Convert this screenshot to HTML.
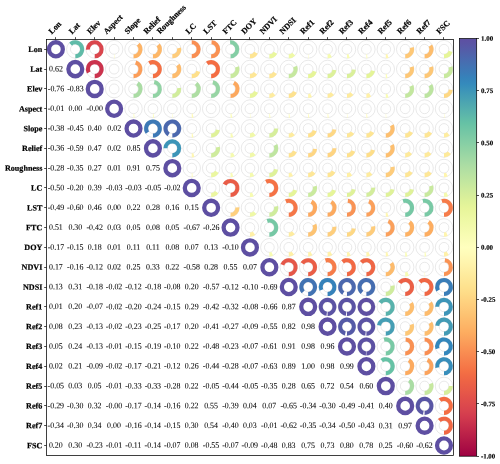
<!DOCTYPE html>
<html><head><meta charset="utf-8"><title>Correlation matrix</title>
<style>html,body{margin:0;padding:0;background:#fff;}body{width:500px;height:464px;position:relative;overflow:hidden;font-family:"Liberation Serif",serif;}</style></head>
<body>
<svg width="500" height="464" viewBox="0 0 500 464" style="position:absolute;left:0;top:0;will-change:transform;text-rendering:geometricPrecision">
<rect x="0" y="0" width="500" height="464" fill="#fff"/>
<defs><linearGradient id="g" x1="0" y1="0" x2="0" y2="1"><stop offset="0.0000" stop-color="#5e4fa2"/><stop offset="0.0156" stop-color="#5956a5"/><stop offset="0.0312" stop-color="#525fa9"/><stop offset="0.0469" stop-color="#4b68ae"/><stop offset="0.0625" stop-color="#4471b2"/><stop offset="0.0781" stop-color="#3d79b6"/><stop offset="0.0938" stop-color="#3682ba"/><stop offset="0.1094" stop-color="#358bbc"/><stop offset="0.1250" stop-color="#3d95b8"/><stop offset="0.1406" stop-color="#459eb4"/><stop offset="0.1562" stop-color="#4ea7b0"/><stop offset="0.1719" stop-color="#56b0ad"/><stop offset="0.1875" stop-color="#5eb9a9"/><stop offset="0.2031" stop-color="#66c2a5"/><stop offset="0.2188" stop-color="#71c6a5"/><stop offset="0.2344" stop-color="#7ccaa5"/><stop offset="0.2500" stop-color="#86cfa5"/><stop offset="0.2656" stop-color="#91d3a4"/><stop offset="0.2812" stop-color="#9cd7a4"/><stop offset="0.2969" stop-color="#a7dba4"/><stop offset="0.3125" stop-color="#b1dfa3"/><stop offset="0.3281" stop-color="#bae3a1"/><stop offset="0.3438" stop-color="#c3e79f"/><stop offset="0.3594" stop-color="#cdeb9d"/><stop offset="0.3750" stop-color="#d6ee9b"/><stop offset="0.3906" stop-color="#dff299"/><stop offset="0.4062" stop-color="#e7f59a"/><stop offset="0.4219" stop-color="#ebf7a0"/><stop offset="0.4375" stop-color="#eff9a6"/><stop offset="0.4531" stop-color="#f3faac"/><stop offset="0.4688" stop-color="#f7fcb2"/><stop offset="0.4844" stop-color="#fbfdb8"/><stop offset="0.5000" stop-color="#ffffbe"/><stop offset="0.5156" stop-color="#fffbb8"/><stop offset="0.5312" stop-color="#fff6b0"/><stop offset="0.5469" stop-color="#fff1a8"/><stop offset="0.5625" stop-color="#feec9f"/><stop offset="0.5781" stop-color="#fee797"/><stop offset="0.5938" stop-color="#fee28f"/><stop offset="0.6094" stop-color="#fedc88"/><stop offset="0.6250" stop-color="#fed481"/><stop offset="0.6406" stop-color="#fecc7b"/><stop offset="0.6562" stop-color="#fdc574"/><stop offset="0.6719" stop-color="#fdbd6d"/><stop offset="0.6875" stop-color="#fdb567"/><stop offset="0.7031" stop-color="#fdad60"/><stop offset="0.7188" stop-color="#fba35c"/><stop offset="0.7344" stop-color="#fa9857"/><stop offset="0.7500" stop-color="#f98e52"/><stop offset="0.7656" stop-color="#f7844e"/><stop offset="0.7812" stop-color="#f67a49"/><stop offset="0.7969" stop-color="#f47044"/><stop offset="0.8125" stop-color="#f06744"/><stop offset="0.8281" stop-color="#eb6046"/><stop offset="0.8438" stop-color="#e75948"/><stop offset="0.8594" stop-color="#e2514a"/><stop offset="0.8750" stop-color="#dd4a4c"/><stop offset="0.8906" stop-color="#d8434e"/><stop offset="0.9062" stop-color="#d23a4e"/><stop offset="0.9219" stop-color="#c9314c"/><stop offset="0.9375" stop-color="#c1274a"/><stop offset="0.9531" stop-color="#b81e48"/><stop offset="0.9688" stop-color="#af1446"/><stop offset="0.9844" stop-color="#a70b44"/><stop offset="1.0000" stop-color="#9e0142"/></linearGradient></defs>
<g fill="none" stroke="#d2d2d2" stroke-width="0.5">
<ellipse cx="75.31" cy="49.3" rx="8.73" ry="8.91"/><ellipse cx="75.31" cy="49.3" rx="4.85" ry="4.95"/>
<ellipse cx="94.71" cy="49.3" rx="8.73" ry="8.91"/><ellipse cx="94.71" cy="49.3" rx="4.85" ry="4.95"/>
<ellipse cx="114.12" cy="49.3" rx="8.73" ry="8.91"/><ellipse cx="114.12" cy="49.3" rx="4.85" ry="4.95"/>
<ellipse cx="133.52" cy="49.3" rx="8.73" ry="8.91"/><ellipse cx="133.52" cy="49.3" rx="4.85" ry="4.95"/>
<ellipse cx="152.93" cy="49.3" rx="8.73" ry="8.91"/><ellipse cx="152.93" cy="49.3" rx="4.85" ry="4.95"/>
<ellipse cx="172.33" cy="49.3" rx="8.73" ry="8.91"/><ellipse cx="172.33" cy="49.3" rx="4.85" ry="4.95"/>
<ellipse cx="191.74" cy="49.3" rx="8.73" ry="8.91"/><ellipse cx="191.74" cy="49.3" rx="4.85" ry="4.95"/>
<ellipse cx="211.14" cy="49.3" rx="8.73" ry="8.91"/><ellipse cx="211.14" cy="49.3" rx="4.85" ry="4.95"/>
<ellipse cx="230.55" cy="49.3" rx="8.73" ry="8.91"/><ellipse cx="230.55" cy="49.3" rx="4.85" ry="4.95"/>
<ellipse cx="249.95" cy="49.3" rx="8.73" ry="8.91"/><ellipse cx="249.95" cy="49.3" rx="4.85" ry="4.95"/>
<ellipse cx="269.35" cy="49.3" rx="8.73" ry="8.91"/><ellipse cx="269.35" cy="49.3" rx="4.85" ry="4.95"/>
<ellipse cx="288.76" cy="49.3" rx="8.73" ry="8.91"/><ellipse cx="288.76" cy="49.3" rx="4.85" ry="4.95"/>
<ellipse cx="308.16" cy="49.3" rx="8.73" ry="8.91"/><ellipse cx="308.16" cy="49.3" rx="4.85" ry="4.95"/>
<ellipse cx="327.57" cy="49.3" rx="8.73" ry="8.91"/><ellipse cx="327.57" cy="49.3" rx="4.85" ry="4.95"/>
<ellipse cx="346.97" cy="49.3" rx="8.73" ry="8.91"/><ellipse cx="346.97" cy="49.3" rx="4.85" ry="4.95"/>
<ellipse cx="366.38" cy="49.3" rx="8.73" ry="8.91"/><ellipse cx="366.38" cy="49.3" rx="4.85" ry="4.95"/>
<ellipse cx="385.78" cy="49.3" rx="8.73" ry="8.91"/><ellipse cx="385.78" cy="49.3" rx="4.85" ry="4.95"/>
<ellipse cx="405.19" cy="49.3" rx="8.73" ry="8.91"/><ellipse cx="405.19" cy="49.3" rx="4.85" ry="4.95"/>
<ellipse cx="424.59" cy="49.3" rx="8.73" ry="8.91"/><ellipse cx="424.59" cy="49.3" rx="4.85" ry="4.95"/>
<ellipse cx="444" cy="49.3" rx="8.73" ry="8.91"/><ellipse cx="444" cy="49.3" rx="4.85" ry="4.95"/>
<ellipse cx="94.71" cy="69.11" rx="8.73" ry="8.91"/><ellipse cx="94.71" cy="69.11" rx="4.85" ry="4.95"/>
<ellipse cx="114.12" cy="69.11" rx="8.73" ry="8.91"/><ellipse cx="114.12" cy="69.11" rx="4.85" ry="4.95"/>
<ellipse cx="133.52" cy="69.11" rx="8.73" ry="8.91"/><ellipse cx="133.52" cy="69.11" rx="4.85" ry="4.95"/>
<ellipse cx="152.93" cy="69.11" rx="8.73" ry="8.91"/><ellipse cx="152.93" cy="69.11" rx="4.85" ry="4.95"/>
<ellipse cx="172.33" cy="69.11" rx="8.73" ry="8.91"/><ellipse cx="172.33" cy="69.11" rx="4.85" ry="4.95"/>
<ellipse cx="191.74" cy="69.11" rx="8.73" ry="8.91"/><ellipse cx="191.74" cy="69.11" rx="4.85" ry="4.95"/>
<ellipse cx="211.14" cy="69.11" rx="8.73" ry="8.91"/><ellipse cx="211.14" cy="69.11" rx="4.85" ry="4.95"/>
<ellipse cx="230.55" cy="69.11" rx="8.73" ry="8.91"/><ellipse cx="230.55" cy="69.11" rx="4.85" ry="4.95"/>
<ellipse cx="249.95" cy="69.11" rx="8.73" ry="8.91"/><ellipse cx="249.95" cy="69.11" rx="4.85" ry="4.95"/>
<ellipse cx="269.35" cy="69.11" rx="8.73" ry="8.91"/><ellipse cx="269.35" cy="69.11" rx="4.85" ry="4.95"/>
<ellipse cx="288.76" cy="69.11" rx="8.73" ry="8.91"/><ellipse cx="288.76" cy="69.11" rx="4.85" ry="4.95"/>
<ellipse cx="308.16" cy="69.11" rx="8.73" ry="8.91"/><ellipse cx="308.16" cy="69.11" rx="4.85" ry="4.95"/>
<ellipse cx="327.57" cy="69.11" rx="8.73" ry="8.91"/><ellipse cx="327.57" cy="69.11" rx="4.85" ry="4.95"/>
<ellipse cx="346.97" cy="69.11" rx="8.73" ry="8.91"/><ellipse cx="346.97" cy="69.11" rx="4.85" ry="4.95"/>
<ellipse cx="366.38" cy="69.11" rx="8.73" ry="8.91"/><ellipse cx="366.38" cy="69.11" rx="4.85" ry="4.95"/>
<ellipse cx="385.78" cy="69.11" rx="8.73" ry="8.91"/><ellipse cx="385.78" cy="69.11" rx="4.85" ry="4.95"/>
<ellipse cx="405.19" cy="69.11" rx="8.73" ry="8.91"/><ellipse cx="405.19" cy="69.11" rx="4.85" ry="4.95"/>
<ellipse cx="424.59" cy="69.11" rx="8.73" ry="8.91"/><ellipse cx="424.59" cy="69.11" rx="4.85" ry="4.95"/>
<ellipse cx="444" cy="69.11" rx="8.73" ry="8.91"/><ellipse cx="444" cy="69.11" rx="4.85" ry="4.95"/>
<ellipse cx="114.12" cy="88.92" rx="8.73" ry="8.91"/><ellipse cx="114.12" cy="88.92" rx="4.85" ry="4.95"/>
<ellipse cx="133.52" cy="88.92" rx="8.73" ry="8.91"/><ellipse cx="133.52" cy="88.92" rx="4.85" ry="4.95"/>
<ellipse cx="152.93" cy="88.92" rx="8.73" ry="8.91"/><ellipse cx="152.93" cy="88.92" rx="4.85" ry="4.95"/>
<ellipse cx="172.33" cy="88.92" rx="8.73" ry="8.91"/><ellipse cx="172.33" cy="88.92" rx="4.85" ry="4.95"/>
<ellipse cx="191.74" cy="88.92" rx="8.73" ry="8.91"/><ellipse cx="191.74" cy="88.92" rx="4.85" ry="4.95"/>
<ellipse cx="211.14" cy="88.92" rx="8.73" ry="8.91"/><ellipse cx="211.14" cy="88.92" rx="4.85" ry="4.95"/>
<ellipse cx="230.55" cy="88.92" rx="8.73" ry="8.91"/><ellipse cx="230.55" cy="88.92" rx="4.85" ry="4.95"/>
<ellipse cx="249.95" cy="88.92" rx="8.73" ry="8.91"/><ellipse cx="249.95" cy="88.92" rx="4.85" ry="4.95"/>
<ellipse cx="269.35" cy="88.92" rx="8.73" ry="8.91"/><ellipse cx="269.35" cy="88.92" rx="4.85" ry="4.95"/>
<ellipse cx="288.76" cy="88.92" rx="8.73" ry="8.91"/><ellipse cx="288.76" cy="88.92" rx="4.85" ry="4.95"/>
<ellipse cx="308.16" cy="88.92" rx="8.73" ry="8.91"/><ellipse cx="308.16" cy="88.92" rx="4.85" ry="4.95"/>
<ellipse cx="327.57" cy="88.92" rx="8.73" ry="8.91"/><ellipse cx="327.57" cy="88.92" rx="4.85" ry="4.95"/>
<ellipse cx="346.97" cy="88.92" rx="8.73" ry="8.91"/><ellipse cx="346.97" cy="88.92" rx="4.85" ry="4.95"/>
<ellipse cx="366.38" cy="88.92" rx="8.73" ry="8.91"/><ellipse cx="366.38" cy="88.92" rx="4.85" ry="4.95"/>
<ellipse cx="385.78" cy="88.92" rx="8.73" ry="8.91"/><ellipse cx="385.78" cy="88.92" rx="4.85" ry="4.95"/>
<ellipse cx="405.19" cy="88.92" rx="8.73" ry="8.91"/><ellipse cx="405.19" cy="88.92" rx="4.85" ry="4.95"/>
<ellipse cx="424.59" cy="88.92" rx="8.73" ry="8.91"/><ellipse cx="424.59" cy="88.92" rx="4.85" ry="4.95"/>
<ellipse cx="444" cy="88.92" rx="8.73" ry="8.91"/><ellipse cx="444" cy="88.92" rx="4.85" ry="4.95"/>
<ellipse cx="133.52" cy="108.73" rx="8.73" ry="8.91"/><ellipse cx="133.52" cy="108.73" rx="4.85" ry="4.95"/>
<ellipse cx="152.93" cy="108.73" rx="8.73" ry="8.91"/><ellipse cx="152.93" cy="108.73" rx="4.85" ry="4.95"/>
<ellipse cx="172.33" cy="108.73" rx="8.73" ry="8.91"/><ellipse cx="172.33" cy="108.73" rx="4.85" ry="4.95"/>
<ellipse cx="191.74" cy="108.73" rx="8.73" ry="8.91"/><ellipse cx="191.74" cy="108.73" rx="4.85" ry="4.95"/>
<ellipse cx="211.14" cy="108.73" rx="8.73" ry="8.91"/><ellipse cx="211.14" cy="108.73" rx="4.85" ry="4.95"/>
<ellipse cx="230.55" cy="108.73" rx="8.73" ry="8.91"/><ellipse cx="230.55" cy="108.73" rx="4.85" ry="4.95"/>
<ellipse cx="249.95" cy="108.73" rx="8.73" ry="8.91"/><ellipse cx="249.95" cy="108.73" rx="4.85" ry="4.95"/>
<ellipse cx="269.35" cy="108.73" rx="8.73" ry="8.91"/><ellipse cx="269.35" cy="108.73" rx="4.85" ry="4.95"/>
<ellipse cx="288.76" cy="108.73" rx="8.73" ry="8.91"/><ellipse cx="288.76" cy="108.73" rx="4.85" ry="4.95"/>
<ellipse cx="308.16" cy="108.73" rx="8.73" ry="8.91"/><ellipse cx="308.16" cy="108.73" rx="4.85" ry="4.95"/>
<ellipse cx="327.57" cy="108.73" rx="8.73" ry="8.91"/><ellipse cx="327.57" cy="108.73" rx="4.85" ry="4.95"/>
<ellipse cx="346.97" cy="108.73" rx="8.73" ry="8.91"/><ellipse cx="346.97" cy="108.73" rx="4.85" ry="4.95"/>
<ellipse cx="366.38" cy="108.73" rx="8.73" ry="8.91"/><ellipse cx="366.38" cy="108.73" rx="4.85" ry="4.95"/>
<ellipse cx="385.78" cy="108.73" rx="8.73" ry="8.91"/><ellipse cx="385.78" cy="108.73" rx="4.85" ry="4.95"/>
<ellipse cx="405.19" cy="108.73" rx="8.73" ry="8.91"/><ellipse cx="405.19" cy="108.73" rx="4.85" ry="4.95"/>
<ellipse cx="424.59" cy="108.73" rx="8.73" ry="8.91"/><ellipse cx="424.59" cy="108.73" rx="4.85" ry="4.95"/>
<ellipse cx="444" cy="108.73" rx="8.73" ry="8.91"/><ellipse cx="444" cy="108.73" rx="4.85" ry="4.95"/>
<ellipse cx="152.93" cy="128.54" rx="8.73" ry="8.91"/><ellipse cx="152.93" cy="128.54" rx="4.85" ry="4.95"/>
<ellipse cx="172.33" cy="128.54" rx="8.73" ry="8.91"/><ellipse cx="172.33" cy="128.54" rx="4.85" ry="4.95"/>
<ellipse cx="191.74" cy="128.54" rx="8.73" ry="8.91"/><ellipse cx="191.74" cy="128.54" rx="4.85" ry="4.95"/>
<ellipse cx="211.14" cy="128.54" rx="8.73" ry="8.91"/><ellipse cx="211.14" cy="128.54" rx="4.85" ry="4.95"/>
<ellipse cx="230.55" cy="128.54" rx="8.73" ry="8.91"/><ellipse cx="230.55" cy="128.54" rx="4.85" ry="4.95"/>
<ellipse cx="249.95" cy="128.54" rx="8.73" ry="8.91"/><ellipse cx="249.95" cy="128.54" rx="4.85" ry="4.95"/>
<ellipse cx="269.35" cy="128.54" rx="8.73" ry="8.91"/><ellipse cx="269.35" cy="128.54" rx="4.85" ry="4.95"/>
<ellipse cx="288.76" cy="128.54" rx="8.73" ry="8.91"/><ellipse cx="288.76" cy="128.54" rx="4.85" ry="4.95"/>
<ellipse cx="308.16" cy="128.54" rx="8.73" ry="8.91"/><ellipse cx="308.16" cy="128.54" rx="4.85" ry="4.95"/>
<ellipse cx="327.57" cy="128.54" rx="8.73" ry="8.91"/><ellipse cx="327.57" cy="128.54" rx="4.85" ry="4.95"/>
<ellipse cx="346.97" cy="128.54" rx="8.73" ry="8.91"/><ellipse cx="346.97" cy="128.54" rx="4.85" ry="4.95"/>
<ellipse cx="366.38" cy="128.54" rx="8.73" ry="8.91"/><ellipse cx="366.38" cy="128.54" rx="4.85" ry="4.95"/>
<ellipse cx="385.78" cy="128.54" rx="8.73" ry="8.91"/><ellipse cx="385.78" cy="128.54" rx="4.85" ry="4.95"/>
<ellipse cx="405.19" cy="128.54" rx="8.73" ry="8.91"/><ellipse cx="405.19" cy="128.54" rx="4.85" ry="4.95"/>
<ellipse cx="424.59" cy="128.54" rx="8.73" ry="8.91"/><ellipse cx="424.59" cy="128.54" rx="4.85" ry="4.95"/>
<ellipse cx="444" cy="128.54" rx="8.73" ry="8.91"/><ellipse cx="444" cy="128.54" rx="4.85" ry="4.95"/>
<ellipse cx="172.33" cy="148.35" rx="8.73" ry="8.91"/><ellipse cx="172.33" cy="148.35" rx="4.85" ry="4.95"/>
<ellipse cx="191.74" cy="148.35" rx="8.73" ry="8.91"/><ellipse cx="191.74" cy="148.35" rx="4.85" ry="4.95"/>
<ellipse cx="211.14" cy="148.35" rx="8.73" ry="8.91"/><ellipse cx="211.14" cy="148.35" rx="4.85" ry="4.95"/>
<ellipse cx="230.55" cy="148.35" rx="8.73" ry="8.91"/><ellipse cx="230.55" cy="148.35" rx="4.85" ry="4.95"/>
<ellipse cx="249.95" cy="148.35" rx="8.73" ry="8.91"/><ellipse cx="249.95" cy="148.35" rx="4.85" ry="4.95"/>
<ellipse cx="269.35" cy="148.35" rx="8.73" ry="8.91"/><ellipse cx="269.35" cy="148.35" rx="4.85" ry="4.95"/>
<ellipse cx="288.76" cy="148.35" rx="8.73" ry="8.91"/><ellipse cx="288.76" cy="148.35" rx="4.85" ry="4.95"/>
<ellipse cx="308.16" cy="148.35" rx="8.73" ry="8.91"/><ellipse cx="308.16" cy="148.35" rx="4.85" ry="4.95"/>
<ellipse cx="327.57" cy="148.35" rx="8.73" ry="8.91"/><ellipse cx="327.57" cy="148.35" rx="4.85" ry="4.95"/>
<ellipse cx="346.97" cy="148.35" rx="8.73" ry="8.91"/><ellipse cx="346.97" cy="148.35" rx="4.85" ry="4.95"/>
<ellipse cx="366.38" cy="148.35" rx="8.73" ry="8.91"/><ellipse cx="366.38" cy="148.35" rx="4.85" ry="4.95"/>
<ellipse cx="385.78" cy="148.35" rx="8.73" ry="8.91"/><ellipse cx="385.78" cy="148.35" rx="4.85" ry="4.95"/>
<ellipse cx="405.19" cy="148.35" rx="8.73" ry="8.91"/><ellipse cx="405.19" cy="148.35" rx="4.85" ry="4.95"/>
<ellipse cx="424.59" cy="148.35" rx="8.73" ry="8.91"/><ellipse cx="424.59" cy="148.35" rx="4.85" ry="4.95"/>
<ellipse cx="444" cy="148.35" rx="8.73" ry="8.91"/><ellipse cx="444" cy="148.35" rx="4.85" ry="4.95"/>
<ellipse cx="191.74" cy="168.16" rx="8.73" ry="8.91"/><ellipse cx="191.74" cy="168.16" rx="4.85" ry="4.95"/>
<ellipse cx="211.14" cy="168.16" rx="8.73" ry="8.91"/><ellipse cx="211.14" cy="168.16" rx="4.85" ry="4.95"/>
<ellipse cx="230.55" cy="168.16" rx="8.73" ry="8.91"/><ellipse cx="230.55" cy="168.16" rx="4.85" ry="4.95"/>
<ellipse cx="249.95" cy="168.16" rx="8.73" ry="8.91"/><ellipse cx="249.95" cy="168.16" rx="4.85" ry="4.95"/>
<ellipse cx="269.35" cy="168.16" rx="8.73" ry="8.91"/><ellipse cx="269.35" cy="168.16" rx="4.85" ry="4.95"/>
<ellipse cx="288.76" cy="168.16" rx="8.73" ry="8.91"/><ellipse cx="288.76" cy="168.16" rx="4.85" ry="4.95"/>
<ellipse cx="308.16" cy="168.16" rx="8.73" ry="8.91"/><ellipse cx="308.16" cy="168.16" rx="4.85" ry="4.95"/>
<ellipse cx="327.57" cy="168.16" rx="8.73" ry="8.91"/><ellipse cx="327.57" cy="168.16" rx="4.85" ry="4.95"/>
<ellipse cx="346.97" cy="168.16" rx="8.73" ry="8.91"/><ellipse cx="346.97" cy="168.16" rx="4.85" ry="4.95"/>
<ellipse cx="366.38" cy="168.16" rx="8.73" ry="8.91"/><ellipse cx="366.38" cy="168.16" rx="4.85" ry="4.95"/>
<ellipse cx="385.78" cy="168.16" rx="8.73" ry="8.91"/><ellipse cx="385.78" cy="168.16" rx="4.85" ry="4.95"/>
<ellipse cx="405.19" cy="168.16" rx="8.73" ry="8.91"/><ellipse cx="405.19" cy="168.16" rx="4.85" ry="4.95"/>
<ellipse cx="424.59" cy="168.16" rx="8.73" ry="8.91"/><ellipse cx="424.59" cy="168.16" rx="4.85" ry="4.95"/>
<ellipse cx="444" cy="168.16" rx="8.73" ry="8.91"/><ellipse cx="444" cy="168.16" rx="4.85" ry="4.95"/>
<ellipse cx="211.14" cy="187.97" rx="8.73" ry="8.91"/><ellipse cx="211.14" cy="187.97" rx="4.85" ry="4.95"/>
<ellipse cx="230.55" cy="187.97" rx="8.73" ry="8.91"/><ellipse cx="230.55" cy="187.97" rx="4.85" ry="4.95"/>
<ellipse cx="249.95" cy="187.97" rx="8.73" ry="8.91"/><ellipse cx="249.95" cy="187.97" rx="4.85" ry="4.95"/>
<ellipse cx="269.35" cy="187.97" rx="8.73" ry="8.91"/><ellipse cx="269.35" cy="187.97" rx="4.85" ry="4.95"/>
<ellipse cx="288.76" cy="187.97" rx="8.73" ry="8.91"/><ellipse cx="288.76" cy="187.97" rx="4.85" ry="4.95"/>
<ellipse cx="308.16" cy="187.97" rx="8.73" ry="8.91"/><ellipse cx="308.16" cy="187.97" rx="4.85" ry="4.95"/>
<ellipse cx="327.57" cy="187.97" rx="8.73" ry="8.91"/><ellipse cx="327.57" cy="187.97" rx="4.85" ry="4.95"/>
<ellipse cx="346.97" cy="187.97" rx="8.73" ry="8.91"/><ellipse cx="346.97" cy="187.97" rx="4.85" ry="4.95"/>
<ellipse cx="366.38" cy="187.97" rx="8.73" ry="8.91"/><ellipse cx="366.38" cy="187.97" rx="4.85" ry="4.95"/>
<ellipse cx="385.78" cy="187.97" rx="8.73" ry="8.91"/><ellipse cx="385.78" cy="187.97" rx="4.85" ry="4.95"/>
<ellipse cx="405.19" cy="187.97" rx="8.73" ry="8.91"/><ellipse cx="405.19" cy="187.97" rx="4.85" ry="4.95"/>
<ellipse cx="424.59" cy="187.97" rx="8.73" ry="8.91"/><ellipse cx="424.59" cy="187.97" rx="4.85" ry="4.95"/>
<ellipse cx="444" cy="187.97" rx="8.73" ry="8.91"/><ellipse cx="444" cy="187.97" rx="4.85" ry="4.95"/>
<ellipse cx="230.55" cy="207.78" rx="8.73" ry="8.91"/><ellipse cx="230.55" cy="207.78" rx="4.85" ry="4.95"/>
<ellipse cx="249.95" cy="207.78" rx="8.73" ry="8.91"/><ellipse cx="249.95" cy="207.78" rx="4.85" ry="4.95"/>
<ellipse cx="269.35" cy="207.78" rx="8.73" ry="8.91"/><ellipse cx="269.35" cy="207.78" rx="4.85" ry="4.95"/>
<ellipse cx="288.76" cy="207.78" rx="8.73" ry="8.91"/><ellipse cx="288.76" cy="207.78" rx="4.85" ry="4.95"/>
<ellipse cx="308.16" cy="207.78" rx="8.73" ry="8.91"/><ellipse cx="308.16" cy="207.78" rx="4.85" ry="4.95"/>
<ellipse cx="327.57" cy="207.78" rx="8.73" ry="8.91"/><ellipse cx="327.57" cy="207.78" rx="4.85" ry="4.95"/>
<ellipse cx="346.97" cy="207.78" rx="8.73" ry="8.91"/><ellipse cx="346.97" cy="207.78" rx="4.85" ry="4.95"/>
<ellipse cx="366.38" cy="207.78" rx="8.73" ry="8.91"/><ellipse cx="366.38" cy="207.78" rx="4.85" ry="4.95"/>
<ellipse cx="385.78" cy="207.78" rx="8.73" ry="8.91"/><ellipse cx="385.78" cy="207.78" rx="4.85" ry="4.95"/>
<ellipse cx="405.19" cy="207.78" rx="8.73" ry="8.91"/><ellipse cx="405.19" cy="207.78" rx="4.85" ry="4.95"/>
<ellipse cx="424.59" cy="207.78" rx="8.73" ry="8.91"/><ellipse cx="424.59" cy="207.78" rx="4.85" ry="4.95"/>
<ellipse cx="444" cy="207.78" rx="8.73" ry="8.91"/><ellipse cx="444" cy="207.78" rx="4.85" ry="4.95"/>
<ellipse cx="249.95" cy="227.59" rx="8.73" ry="8.91"/><ellipse cx="249.95" cy="227.59" rx="4.85" ry="4.95"/>
<ellipse cx="269.35" cy="227.59" rx="8.73" ry="8.91"/><ellipse cx="269.35" cy="227.59" rx="4.85" ry="4.95"/>
<ellipse cx="288.76" cy="227.59" rx="8.73" ry="8.91"/><ellipse cx="288.76" cy="227.59" rx="4.85" ry="4.95"/>
<ellipse cx="308.16" cy="227.59" rx="8.73" ry="8.91"/><ellipse cx="308.16" cy="227.59" rx="4.85" ry="4.95"/>
<ellipse cx="327.57" cy="227.59" rx="8.73" ry="8.91"/><ellipse cx="327.57" cy="227.59" rx="4.85" ry="4.95"/>
<ellipse cx="346.97" cy="227.59" rx="8.73" ry="8.91"/><ellipse cx="346.97" cy="227.59" rx="4.85" ry="4.95"/>
<ellipse cx="366.38" cy="227.59" rx="8.73" ry="8.91"/><ellipse cx="366.38" cy="227.59" rx="4.85" ry="4.95"/>
<ellipse cx="385.78" cy="227.59" rx="8.73" ry="8.91"/><ellipse cx="385.78" cy="227.59" rx="4.85" ry="4.95"/>
<ellipse cx="405.19" cy="227.59" rx="8.73" ry="8.91"/><ellipse cx="405.19" cy="227.59" rx="4.85" ry="4.95"/>
<ellipse cx="424.59" cy="227.59" rx="8.73" ry="8.91"/><ellipse cx="424.59" cy="227.59" rx="4.85" ry="4.95"/>
<ellipse cx="444" cy="227.59" rx="8.73" ry="8.91"/><ellipse cx="444" cy="227.59" rx="4.85" ry="4.95"/>
<ellipse cx="269.35" cy="247.4" rx="8.73" ry="8.91"/><ellipse cx="269.35" cy="247.4" rx="4.85" ry="4.95"/>
<ellipse cx="288.76" cy="247.4" rx="8.73" ry="8.91"/><ellipse cx="288.76" cy="247.4" rx="4.85" ry="4.95"/>
<ellipse cx="308.16" cy="247.4" rx="8.73" ry="8.91"/><ellipse cx="308.16" cy="247.4" rx="4.85" ry="4.95"/>
<ellipse cx="327.57" cy="247.4" rx="8.73" ry="8.91"/><ellipse cx="327.57" cy="247.4" rx="4.85" ry="4.95"/>
<ellipse cx="346.97" cy="247.4" rx="8.73" ry="8.91"/><ellipse cx="346.97" cy="247.4" rx="4.85" ry="4.95"/>
<ellipse cx="366.38" cy="247.4" rx="8.73" ry="8.91"/><ellipse cx="366.38" cy="247.4" rx="4.85" ry="4.95"/>
<ellipse cx="385.78" cy="247.4" rx="8.73" ry="8.91"/><ellipse cx="385.78" cy="247.4" rx="4.85" ry="4.95"/>
<ellipse cx="405.19" cy="247.4" rx="8.73" ry="8.91"/><ellipse cx="405.19" cy="247.4" rx="4.85" ry="4.95"/>
<ellipse cx="424.59" cy="247.4" rx="8.73" ry="8.91"/><ellipse cx="424.59" cy="247.4" rx="4.85" ry="4.95"/>
<ellipse cx="444" cy="247.4" rx="8.73" ry="8.91"/><ellipse cx="444" cy="247.4" rx="4.85" ry="4.95"/>
<ellipse cx="288.76" cy="267.21" rx="8.73" ry="8.91"/><ellipse cx="288.76" cy="267.21" rx="4.85" ry="4.95"/>
<ellipse cx="308.16" cy="267.21" rx="8.73" ry="8.91"/><ellipse cx="308.16" cy="267.21" rx="4.85" ry="4.95"/>
<ellipse cx="327.57" cy="267.21" rx="8.73" ry="8.91"/><ellipse cx="327.57" cy="267.21" rx="4.85" ry="4.95"/>
<ellipse cx="346.97" cy="267.21" rx="8.73" ry="8.91"/><ellipse cx="346.97" cy="267.21" rx="4.85" ry="4.95"/>
<ellipse cx="366.38" cy="267.21" rx="8.73" ry="8.91"/><ellipse cx="366.38" cy="267.21" rx="4.85" ry="4.95"/>
<ellipse cx="385.78" cy="267.21" rx="8.73" ry="8.91"/><ellipse cx="385.78" cy="267.21" rx="4.85" ry="4.95"/>
<ellipse cx="405.19" cy="267.21" rx="8.73" ry="8.91"/><ellipse cx="405.19" cy="267.21" rx="4.85" ry="4.95"/>
<ellipse cx="424.59" cy="267.21" rx="8.73" ry="8.91"/><ellipse cx="424.59" cy="267.21" rx="4.85" ry="4.95"/>
<ellipse cx="444" cy="267.21" rx="8.73" ry="8.91"/><ellipse cx="444" cy="267.21" rx="4.85" ry="4.95"/>
<ellipse cx="308.16" cy="287.02" rx="8.73" ry="8.91"/><ellipse cx="308.16" cy="287.02" rx="4.85" ry="4.95"/>
<ellipse cx="327.57" cy="287.02" rx="8.73" ry="8.91"/><ellipse cx="327.57" cy="287.02" rx="4.85" ry="4.95"/>
<ellipse cx="346.97" cy="287.02" rx="8.73" ry="8.91"/><ellipse cx="346.97" cy="287.02" rx="4.85" ry="4.95"/>
<ellipse cx="366.38" cy="287.02" rx="8.73" ry="8.91"/><ellipse cx="366.38" cy="287.02" rx="4.85" ry="4.95"/>
<ellipse cx="385.78" cy="287.02" rx="8.73" ry="8.91"/><ellipse cx="385.78" cy="287.02" rx="4.85" ry="4.95"/>
<ellipse cx="405.19" cy="287.02" rx="8.73" ry="8.91"/><ellipse cx="405.19" cy="287.02" rx="4.85" ry="4.95"/>
<ellipse cx="424.59" cy="287.02" rx="8.73" ry="8.91"/><ellipse cx="424.59" cy="287.02" rx="4.85" ry="4.95"/>
<ellipse cx="444" cy="287.02" rx="8.73" ry="8.91"/><ellipse cx="444" cy="287.02" rx="4.85" ry="4.95"/>
<ellipse cx="327.57" cy="306.83" rx="8.73" ry="8.91"/><ellipse cx="327.57" cy="306.83" rx="4.85" ry="4.95"/>
<ellipse cx="346.97" cy="306.83" rx="8.73" ry="8.91"/><ellipse cx="346.97" cy="306.83" rx="4.85" ry="4.95"/>
<ellipse cx="366.38" cy="306.83" rx="8.73" ry="8.91"/><ellipse cx="366.38" cy="306.83" rx="4.85" ry="4.95"/>
<ellipse cx="385.78" cy="306.83" rx="8.73" ry="8.91"/><ellipse cx="385.78" cy="306.83" rx="4.85" ry="4.95"/>
<ellipse cx="405.19" cy="306.83" rx="8.73" ry="8.91"/><ellipse cx="405.19" cy="306.83" rx="4.85" ry="4.95"/>
<ellipse cx="424.59" cy="306.83" rx="8.73" ry="8.91"/><ellipse cx="424.59" cy="306.83" rx="4.85" ry="4.95"/>
<ellipse cx="444" cy="306.83" rx="8.73" ry="8.91"/><ellipse cx="444" cy="306.83" rx="4.85" ry="4.95"/>
<ellipse cx="346.97" cy="326.64" rx="8.73" ry="8.91"/><ellipse cx="346.97" cy="326.64" rx="4.85" ry="4.95"/>
<ellipse cx="366.38" cy="326.64" rx="8.73" ry="8.91"/><ellipse cx="366.38" cy="326.64" rx="4.85" ry="4.95"/>
<ellipse cx="385.78" cy="326.64" rx="8.73" ry="8.91"/><ellipse cx="385.78" cy="326.64" rx="4.85" ry="4.95"/>
<ellipse cx="405.19" cy="326.64" rx="8.73" ry="8.91"/><ellipse cx="405.19" cy="326.64" rx="4.85" ry="4.95"/>
<ellipse cx="424.59" cy="326.64" rx="8.73" ry="8.91"/><ellipse cx="424.59" cy="326.64" rx="4.85" ry="4.95"/>
<ellipse cx="444" cy="326.64" rx="8.73" ry="8.91"/><ellipse cx="444" cy="326.64" rx="4.85" ry="4.95"/>
<ellipse cx="366.38" cy="346.45" rx="8.73" ry="8.91"/><ellipse cx="366.38" cy="346.45" rx="4.85" ry="4.95"/>
<ellipse cx="385.78" cy="346.45" rx="8.73" ry="8.91"/><ellipse cx="385.78" cy="346.45" rx="4.85" ry="4.95"/>
<ellipse cx="405.19" cy="346.45" rx="8.73" ry="8.91"/><ellipse cx="405.19" cy="346.45" rx="4.85" ry="4.95"/>
<ellipse cx="424.59" cy="346.45" rx="8.73" ry="8.91"/><ellipse cx="424.59" cy="346.45" rx="4.85" ry="4.95"/>
<ellipse cx="444" cy="346.45" rx="8.73" ry="8.91"/><ellipse cx="444" cy="346.45" rx="4.85" ry="4.95"/>
<ellipse cx="385.78" cy="366.26" rx="8.73" ry="8.91"/><ellipse cx="385.78" cy="366.26" rx="4.85" ry="4.95"/>
<ellipse cx="405.19" cy="366.26" rx="8.73" ry="8.91"/><ellipse cx="405.19" cy="366.26" rx="4.85" ry="4.95"/>
<ellipse cx="424.59" cy="366.26" rx="8.73" ry="8.91"/><ellipse cx="424.59" cy="366.26" rx="4.85" ry="4.95"/>
<ellipse cx="444" cy="366.26" rx="8.73" ry="8.91"/><ellipse cx="444" cy="366.26" rx="4.85" ry="4.95"/>
<ellipse cx="405.19" cy="386.07" rx="8.73" ry="8.91"/><ellipse cx="405.19" cy="386.07" rx="4.85" ry="4.95"/>
<ellipse cx="424.59" cy="386.07" rx="8.73" ry="8.91"/><ellipse cx="424.59" cy="386.07" rx="4.85" ry="4.95"/>
<ellipse cx="444" cy="386.07" rx="8.73" ry="8.91"/><ellipse cx="444" cy="386.07" rx="4.85" ry="4.95"/>
<ellipse cx="424.59" cy="405.88" rx="8.73" ry="8.91"/><ellipse cx="424.59" cy="405.88" rx="4.85" ry="4.95"/>
<ellipse cx="444" cy="405.88" rx="8.73" ry="8.91"/><ellipse cx="444" cy="405.88" rx="4.85" ry="4.95"/>
<ellipse cx="444" cy="425.69" rx="8.73" ry="8.91"/><ellipse cx="444" cy="425.69" rx="4.85" ry="4.95"/>
</g>
<path d="M46.82 49.3A9.08 9.27 0 1 0 64.98 49.3A9.08 9.27 0 1 0 46.82 49.3ZM51.11 49.3A4.79 4.89 0 1 1 60.7 49.3A4.79 4.89 0 1 1 51.11 49.3Z" fill="#5e4fa2" fill-rule="evenodd"/>
<path d="M75.31 58.36A8.87 9.05 0 1 0 69.24 42.71L71.99 45.69A4.85 4.95 0 1 1 75.31 54.26Z" fill="#60bba8"/>
<path d="M94.71 58.36A8.87 9.05 0 1 0 85.86 49.87L89.87 49.62A4.85 4.95 0 1 1 94.71 54.26Z" fill="#da464d"/>
<path d="M114.12 58.36A8.87 9.05 0 0 0 114.67 58.34L114.42 54.25A4.85 4.95 0 0 1 114.12 54.26Z" fill="#fffdbc"/>
<path d="M133.52 58.36A8.87 9.05 0 0 0 139.59 42.71L136.84 45.69A4.85 4.95 0 0 1 133.52 54.26Z" fill="#fdb365"/>
<path d="M152.93 58.36A8.87 9.05 0 0 0 159.76 43.53L156.66 46.15A4.85 4.95 0 0 1 152.93 54.26Z" fill="#fdb768"/>
<path d="M172.33 58.36A8.87 9.05 0 0 0 181.04 47.61L177.1 48.38A4.85 4.95 0 0 1 172.33 54.26Z" fill="#fecc7b"/>
<path d="M191.74 58.36A8.87 9.05 0 0 0 191.74 40.25L191.74 44.35A4.85 4.95 0 0 1 191.74 54.26Z" fill="#f98e52"/>
<path d="M211.14 58.36A8.87 9.05 0 0 0 211.7 40.27L211.45 44.36A4.85 4.95 0 0 1 211.14 54.26Z" fill="#f99153"/>
<path d="M230.55 58.36A8.87 9.05 0 1 0 229.99 40.27L230.24 44.36A4.85 4.95 0 1 1 230.55 54.26Z" fill="#84cea5"/>
<path d="M249.95 58.36A8.87 9.05 0 0 0 257.72 53.67L254.2 51.69A4.85 4.95 0 0 1 249.95 54.26Z" fill="#fee593"/>
<path d="M269.35 58.36A8.87 9.05 0 0 0 277.13 53.67L273.61 51.69A4.85 4.95 0 0 1 269.35 54.26Z" fill="#eaf79e"/>
<path d="M288.76 58.36A8.87 9.05 0 0 0 295.22 55.5L292.3 52.69A4.85 4.95 0 0 1 288.76 54.26Z" fill="#eff9a6"/>
<path d="M308.16 58.36A8.87 9.05 0 0 0 308.72 58.34L308.47 54.25A4.85 4.95 0 0 1 308.16 54.26Z" fill="#fefebd"/>
<path d="M327.57 58.36A8.87 9.05 0 0 0 331.84 57.24L329.91 53.64A4.85 4.95 0 0 1 327.57 54.26Z" fill="#f5fbaf"/>
<path d="M346.97 58.36A8.87 9.05 0 0 0 349.71 57.91L348.47 54.01A4.85 4.95 0 0 1 346.97 54.26Z" fill="#f9fcb5"/>
<path d="M366.38 58.36A8.87 9.05 0 0 0 367.49 58.29L366.99 54.22A4.85 4.95 0 0 1 366.38 54.26Z" fill="#fdfebb"/>
<path d="M385.78 58.36A8.87 9.05 0 0 0 388.52 57.91L387.28 54.01A4.85 4.95 0 0 1 385.78 54.26Z" fill="#fff7b2"/>
<path d="M405.19 58.36A8.87 9.05 0 0 0 413.78 47.05L409.89 48.07A4.85 4.95 0 0 1 405.19 54.26Z" fill="#fec877"/>
<path d="M424.59 58.36A8.87 9.05 0 0 0 432.08 44.45L428.69 46.65A4.85 4.95 0 0 1 424.59 54.26Z" fill="#fdbd6d"/>
<path d="M444 58.36A8.87 9.05 0 0 0 452.43 52.1L448.61 50.84A4.85 4.95 0 0 1 444 54.26Z" fill="#e6f598"/>
<path d="M66.23 69.11A9.08 9.27 0 1 0 84.39 69.11A9.08 9.27 0 1 0 66.23 69.11ZM70.51 69.11A4.79 4.89 0 1 1 80.1 69.11A4.79 4.89 0 1 1 70.51 69.11Z" fill="#5e4fa2" fill-rule="evenodd"/>
<path d="M94.71 78.17A8.87 9.05 0 1 0 86.94 73.48L90.46 71.5A4.85 4.95 0 1 1 94.71 74.07Z" fill="#cb334d"/>
<path d="M133.52 78.17A8.87 9.05 0 0 0 136.26 60.5L135.02 64.4A4.85 4.95 0 0 1 133.52 74.07Z" fill="#fb9d59"/>
<path d="M152.93 78.17A8.87 9.05 0 1 0 148.17 61.47L150.33 64.93A4.85 4.95 0 1 1 152.93 74.07Z" fill="#f47044"/>
<path d="M172.33 78.17A8.87 9.05 0 0 0 179.51 63.79L176.26 66.2A4.85 4.95 0 0 1 172.33 74.07Z" fill="#fdbb6c"/>
<path d="M191.74 78.17A8.87 9.05 0 0 0 200.17 71.91L196.35 70.64A4.85 4.95 0 0 1 191.74 74.07Z" fill="#fee08b"/>
<path d="M211.14 78.17A8.87 9.05 0 1 0 205.93 61.79L208.29 65.11A4.85 4.95 0 1 1 211.14 74.07Z" fill="#f46d43"/>
<path d="M230.55 78.17A8.87 9.05 0 0 0 238.98 66.32L235.16 67.58A4.85 4.95 0 0 1 230.55 74.07Z" fill="#c8e99e"/>
<path d="M249.95 78.17A8.87 9.05 0 0 0 257.12 74.44L253.87 72.03A4.85 4.95 0 0 1 249.95 74.07Z" fill="#fee797"/>
<path d="M269.35 78.17A8.87 9.05 0 0 0 276.84 73.97L273.45 71.77A4.85 4.95 0 0 1 269.35 74.07Z" fill="#fee695"/>
<path d="M288.76 78.17A8.87 9.05 0 0 0 297 65.78L293.27 67.29A4.85 4.95 0 0 1 288.76 74.07Z" fill="#c6e89f"/>
<path d="M308.16 78.17A8.87 9.05 0 0 0 316.6 71.91L312.78 70.64A4.85 4.95 0 0 1 308.16 74.07Z" fill="#e6f598"/>
<path d="M327.57 78.17A8.87 9.05 0 0 0 336.37 70.25L332.38 69.73A4.85 4.95 0 0 1 327.57 74.07Z" fill="#ddf19a"/>
<path d="M346.97 78.17A8.87 9.05 0 0 0 355.82 69.68L351.82 69.43A4.85 4.95 0 0 1 346.97 74.07Z" fill="#daf09a"/>
<path d="M366.38 78.17A8.87 9.05 0 0 0 374.97 71.37L371.08 70.35A4.85 4.95 0 0 1 366.38 74.07Z" fill="#e4f498"/>
<path d="M385.78 78.17A8.87 9.05 0 0 0 387.45 78.01L386.69 73.98A4.85 4.95 0 0 1 385.78 74.07Z" fill="#fcfeba"/>
<path d="M405.19 78.17A8.87 9.05 0 0 0 413.62 66.32L409.8 67.58A4.85 4.95 0 0 1 405.19 74.07Z" fill="#fdc776"/>
<path d="M424.59 78.17A8.87 9.05 0 0 0 433.03 66.32L429.21 67.58A4.85 4.95 0 0 1 424.59 74.07Z" fill="#fdc776"/>
<path d="M444 78.17A8.87 9.05 0 0 0 452.43 66.32L448.61 67.58A4.85 4.95 0 0 1 444 74.07Z" fill="#c8e99e"/>
<path d="M85.63 88.92A9.08 9.27 0 1 0 103.79 88.92A9.08 9.27 0 1 0 85.63 88.92ZM89.92 88.92A4.79 4.89 0 1 1 99.5 88.92A4.79 4.89 0 1 1 89.92 88.92Z" fill="#5e4fa2" fill-rule="evenodd"/>
<path d="M133.52 97.98A8.87 9.05 0 0 0 138.73 81.6L136.37 84.92A4.85 4.95 0 0 1 133.52 93.88Z" fill="#aadca4"/>
<path d="M152.93 97.98A8.87 9.05 0 0 0 154.59 80.03L153.84 84.06A4.85 4.95 0 0 1 152.93 93.88Z" fill="#91d3a4"/>
<path d="M172.33 97.98A8.87 9.05 0 0 0 181.13 87.79L177.14 88.3A4.85 4.95 0 0 1 172.33 93.88Z" fill="#d1ed9c"/>
<path d="M191.74 97.98A8.87 9.05 0 0 0 197.39 81.95L194.83 85.11A4.85 4.95 0 0 1 191.74 93.88Z" fill="#aedea3"/>
<path d="M211.14 97.98A8.87 9.05 0 0 0 213.35 80.16L212.35 84.13A4.85 4.95 0 0 1 211.14 93.88Z" fill="#97d5a4"/>
<path d="M230.55 97.98A8.87 9.05 0 0 0 234.82 80.99L232.88 84.58A4.85 4.95 0 0 1 230.55 93.88Z" fill="#fca85e"/>
<path d="M249.95 97.98A8.87 9.05 0 0 0 257.97 92.78L254.34 91.03A4.85 4.95 0 0 1 249.95 93.88Z" fill="#e8f69b"/>
<path d="M269.35 97.98A8.87 9.05 0 0 0 275.43 95.52L272.68 92.53A4.85 4.95 0 0 1 269.35 93.88Z" fill="#feec9f"/>
<path d="M288.76 97.98A8.87 9.05 0 0 0 296.78 92.78L293.15 91.03A4.85 4.95 0 0 1 288.76 93.88Z" fill="#fee28f"/>
<path d="M308.16 97.98A8.87 9.05 0 0 0 311.94 97.12L310.23 93.4A4.85 4.95 0 0 1 308.16 93.88Z" fill="#fff5ae"/>
<path d="M327.57 97.98A8.87 9.05 0 0 0 334.03 95.12L331.11 92.31A4.85 4.95 0 0 1 327.57 93.88Z" fill="#feeb9d"/>
<path d="M346.97 97.98A8.87 9.05 0 0 0 353.44 95.12L350.51 92.31A4.85 4.95 0 0 1 346.97 93.88Z" fill="#feeb9d"/>
<path d="M366.38 97.98A8.87 9.05 0 0 0 371.13 96.57L368.98 93.11A4.85 4.95 0 0 1 366.38 93.88Z" fill="#fff1a8"/>
<path d="M385.78 97.98A8.87 9.05 0 0 0 388.52 97.53L387.28 93.63A4.85 4.95 0 0 1 385.78 93.88Z" fill="#f9fcb5"/>
<path d="M405.19 97.98A8.87 9.05 0 0 0 413.21 85.07L409.58 86.82A4.85 4.95 0 0 1 405.19 93.88Z" fill="#c3e79f"/>
<path d="M424.59 97.98A8.87 9.05 0 0 0 432.08 84.07L428.69 86.27A4.85 4.95 0 0 1 424.59 93.88Z" fill="#bce4a0"/>
<path d="M444 97.98A8.87 9.05 0 0 0 452.8 90.06L448.81 89.54A4.85 4.95 0 0 1 444 93.88Z" fill="#fed884"/>
<path d="M105.04 108.73A9.08 9.27 0 1 0 123.2 108.73A9.08 9.27 0 1 0 105.04 108.73ZM109.32 108.73A4.79 4.89 0 1 1 118.91 108.73A4.79 4.89 0 1 1 109.32 108.73Z" fill="#5e4fa2" fill-rule="evenodd"/>
<path d="M133.52 117.79A8.87 9.05 0 0 0 134.63 117.71L134.13 113.65A4.85 4.95 0 0 1 133.52 113.69Z" fill="#fdfebb"/>
<path d="M152.93 117.79A8.87 9.05 0 0 0 154.04 117.71L153.53 113.65A4.85 4.95 0 0 1 152.93 113.69Z" fill="#fdfebb"/>
<path d="M172.33 117.79A8.87 9.05 0 0 0 172.89 117.77L172.64 113.68A4.85 4.95 0 0 1 172.33 113.69Z" fill="#fefebd"/>
<path d="M191.74 117.79A8.87 9.05 0 0 0 193.4 117.63L192.64 113.6A4.85 4.95 0 0 1 191.74 113.69Z" fill="#fffbb8"/>
<path d="M230.55 117.79A8.87 9.05 0 0 0 232.21 117.63L231.45 113.6A4.85 4.95 0 0 1 230.55 113.69Z" fill="#fcfeba"/>
<path d="M249.95 117.79A8.87 9.05 0 0 0 250.51 117.77L250.25 113.68A4.85 4.95 0 0 1 249.95 113.69Z" fill="#fefebd"/>
<path d="M269.35 117.79A8.87 9.05 0 0 0 270.47 117.71L269.96 113.65A4.85 4.95 0 0 1 269.35 113.69Z" fill="#fdfebb"/>
<path d="M288.76 117.79A8.87 9.05 0 0 0 289.87 117.71L289.37 113.65A4.85 4.95 0 0 1 288.76 113.69Z" fill="#fffcba"/>
<path d="M308.16 117.79A8.87 9.05 0 0 0 309.28 117.71L308.77 113.65A4.85 4.95 0 0 1 308.16 113.69Z" fill="#fffcba"/>
<path d="M327.57 117.79A8.87 9.05 0 0 0 328.68 117.71L328.18 113.65A4.85 4.95 0 0 1 327.57 113.69Z" fill="#fffcba"/>
<path d="M346.97 117.79A8.87 9.05 0 0 0 347.53 117.77L347.28 113.68A4.85 4.95 0 0 1 346.97 113.69Z" fill="#fffdbc"/>
<path d="M366.38 117.79A8.87 9.05 0 0 0 367.49 117.71L366.99 113.65A4.85 4.95 0 0 1 366.38 113.69Z" fill="#fffcba"/>
<path d="M385.78 117.79A8.87 9.05 0 0 0 386.34 117.77L386.09 113.68A4.85 4.95 0 0 1 385.78 113.69Z" fill="#fffdbc"/>
<path d="M444 117.79A8.87 9.05 0 0 0 444.55 117.77L444.3 113.68A4.85 4.95 0 0 1 444 113.69Z" fill="#fffdbc"/>
<path d="M124.44 128.54A9.08 9.27 0 1 0 142.6 128.54A9.08 9.27 0 1 0 124.44 128.54ZM128.73 128.54A4.79 4.89 0 1 1 138.31 128.54A4.79 4.89 0 1 1 128.73 128.54Z" fill="#5e4fa2" fill-rule="evenodd"/>
<path d="M152.93 137.6A8.87 9.05 0 1 0 145.75 133.86L149 131.45A4.85 4.95 0 1 1 152.93 133.5Z" fill="#3d79b6"/>
<path d="M172.33 137.6A8.87 9.05 0 1 0 167.58 136.19L169.73 132.72A4.85 4.95 0 1 1 172.33 133.5Z" fill="#4b68ae"/>
<path d="M191.74 137.6A8.87 9.05 0 0 0 193.4 137.44L192.64 133.41A4.85 4.95 0 0 1 191.74 133.5Z" fill="#fffbb8"/>
<path d="M211.14 137.6A8.87 9.05 0 0 0 219.85 130.24L215.91 129.47A4.85 4.95 0 0 1 211.14 133.5Z" fill="#dff299"/>
<path d="M230.55 137.6A8.87 9.05 0 0 0 233.29 137.15L232.04 133.25A4.85 4.95 0 0 1 230.55 133.5Z" fill="#f9fcb5"/>
<path d="M249.95 137.6A8.87 9.05 0 0 0 255.6 135.52L253.04 132.36A4.85 4.95 0 0 1 249.95 133.5Z" fill="#f1f9a9"/>
<path d="M269.35 137.6A8.87 9.05 0 0 0 278.22 128.54L274.21 128.54A4.85 4.95 0 0 1 269.35 133.5Z" fill="#d6ee9b"/>
<path d="M288.76 137.6A8.87 9.05 0 0 0 294.83 135.14L292.08 132.15A4.85 4.95 0 0 1 288.76 133.5Z" fill="#feec9f"/>
<path d="M308.16 137.6A8.87 9.05 0 0 0 316.6 131.34L312.78 130.07A4.85 4.95 0 0 1 308.16 133.5Z" fill="#fee08b"/>
<path d="M327.57 137.6A8.87 9.05 0 0 0 336.37 129.68L332.38 129.16A4.85 4.95 0 0 1 327.57 133.5Z" fill="#fed884"/>
<path d="M346.97 137.6A8.87 9.05 0 0 0 354.15 133.86L350.9 131.45A4.85 4.95 0 0 1 346.97 133.5Z" fill="#fee797"/>
<path d="M366.38 137.6A8.87 9.05 0 0 0 374.15 132.9L370.63 130.93A4.85 4.95 0 0 1 366.38 133.5Z" fill="#fee593"/>
<path d="M385.78 137.6A8.87 9.05 0 0 0 393.55 124.18L390.03 126.16A4.85 4.95 0 0 1 385.78 133.5Z" fill="#fdbf6f"/>
<path d="M405.19 137.6A8.87 9.05 0 0 0 412.96 132.9L409.44 130.93A4.85 4.95 0 0 1 405.19 133.5Z" fill="#fee593"/>
<path d="M424.59 137.6A8.87 9.05 0 0 0 432.08 133.39L428.69 131.2A4.85 4.95 0 0 1 424.59 133.5Z" fill="#fee695"/>
<path d="M444 137.6A8.87 9.05 0 0 0 449.65 135.52L447.09 132.36A4.85 4.95 0 0 1 444 133.5Z" fill="#feeda1"/>
<path d="M143.84 148.35A9.08 9.27 0 1 0 162.01 148.35A9.08 9.27 0 1 0 143.84 148.35ZM148.13 148.35A4.79 4.89 0 1 1 157.72 148.35A4.79 4.89 0 1 1 148.13 148.35Z" fill="#5e4fa2" fill-rule="evenodd"/>
<path d="M172.33 157.41A8.87 9.05 0 1 0 163.46 148.35L167.48 148.35A4.85 4.95 0 1 1 172.33 153.3Z" fill="#3d95b8"/>
<path d="M191.74 157.41A8.87 9.05 0 0 0 194.48 156.96L193.23 153.06A4.85 4.95 0 0 1 191.74 153.3Z" fill="#fff7b2"/>
<path d="M211.14 157.41A8.87 9.05 0 0 0 219.85 146.66L215.91 147.42A4.85 4.95 0 0 1 211.14 153.3Z" fill="#cfec9d"/>
<path d="M230.55 157.41A8.87 9.05 0 0 0 234.82 156.29L232.88 152.69A4.85 4.95 0 0 1 230.55 153.3Z" fill="#f5fbaf"/>
<path d="M249.95 157.41A8.87 9.05 0 0 0 255.6 155.33L253.04 152.17A4.85 4.95 0 0 1 249.95 153.3Z" fill="#f1f9a9"/>
<path d="M269.35 157.41A8.87 9.05 0 0 0 277.13 143.99L273.61 145.97A4.85 4.95 0 0 1 269.35 153.3Z" fill="#bfe5a0"/>
<path d="M288.76 157.41A8.87 9.05 0 0 0 296.78 152.21L293.15 150.46A4.85 4.95 0 0 1 288.76 153.3Z" fill="#fee28f"/>
<path d="M308.16 157.41A8.87 9.05 0 0 0 317.01 148.92L313.01 148.66A4.85 4.95 0 0 1 308.16 153.3Z" fill="#fed683"/>
<path d="M327.57 157.41A8.87 9.05 0 0 0 336.44 148.35L332.42 148.35A4.85 4.95 0 0 1 327.57 153.3Z" fill="#fed481"/>
<path d="M346.97 157.41A8.87 9.05 0 0 0 355.22 151.68L351.48 150.18A4.85 4.95 0 0 1 346.97 153.3Z" fill="#fee18d"/>
<path d="M366.38 157.41A8.87 9.05 0 0 0 374.97 150.6L371.08 149.58A4.85 4.95 0 0 1 366.38 153.3Z" fill="#fede89"/>
<path d="M385.78 157.41A8.87 9.05 0 0 0 393.55 143.99L390.03 145.97A4.85 4.95 0 0 1 385.78 153.3Z" fill="#fdbf6f"/>
<path d="M405.19 157.41A8.87 9.05 0 0 0 412.02 154.12L408.93 151.51A4.85 4.95 0 0 1 405.19 153.3Z" fill="#feea9b"/>
<path d="M424.59 157.41A8.87 9.05 0 0 0 431.43 154.12L428.33 151.51A4.85 4.95 0 0 1 424.59 153.3Z" fill="#feea9b"/>
<path d="M444 157.41A8.87 9.05 0 0 0 450.83 154.12L447.74 151.51A4.85 4.95 0 0 1 444 153.3Z" fill="#feea9b"/>
<path d="M163.25 168.16A9.08 9.27 0 1 0 181.41 168.16A9.08 9.27 0 1 0 163.25 168.16ZM167.54 168.16A4.79 4.89 0 1 1 177.12 168.16A4.79 4.89 0 1 1 167.54 168.16Z" fill="#5e4fa2" fill-rule="evenodd"/>
<path d="M191.74 177.21A8.87 9.05 0 0 0 192.85 177.14L192.34 173.08A4.85 4.95 0 0 1 191.74 173.11Z" fill="#fffcba"/>
<path d="M211.14 177.21A8.87 9.05 0 0 0 218.63 173.01L215.24 170.82A4.85 4.95 0 0 1 211.14 173.11Z" fill="#ebf7a0"/>
<path d="M230.55 177.21A8.87 9.05 0 0 0 233.29 176.77L232.04 172.87A4.85 4.95 0 0 1 230.55 173.11Z" fill="#f9fcb5"/>
<path d="M249.95 177.21A8.87 9.05 0 0 0 254.22 176.1L252.29 172.5A4.85 4.95 0 0 1 249.95 173.11Z" fill="#f5fbaf"/>
<path d="M269.35 177.21A8.87 9.05 0 0 0 278.07 169.86L274.12 169.09A4.85 4.95 0 0 1 269.35 173.11Z" fill="#dff299"/>
<path d="M288.76 177.21A8.87 9.05 0 0 0 293.03 176.1L291.1 172.5A4.85 4.95 0 0 1 288.76 173.11Z" fill="#fff2aa"/>
<path d="M308.16 177.21A8.87 9.05 0 0 0 315.34 173.48L312.09 171.07A4.85 4.95 0 0 1 308.16 173.11Z" fill="#fee797"/>
<path d="M327.57 177.21A8.87 9.05 0 0 0 335.34 172.52L331.82 170.55A4.85 4.95 0 0 1 327.57 173.11Z" fill="#fee593"/>
<path d="M346.97 177.21A8.87 9.05 0 0 0 352.19 175.49L349.83 172.17A4.85 4.95 0 0 1 346.97 173.11Z" fill="#fff0a6"/>
<path d="M366.38 177.21A8.87 9.05 0 0 0 372.45 174.76L369.7 171.77A4.85 4.95 0 0 1 366.38 173.11Z" fill="#feec9f"/>
<path d="M385.78 177.21A8.87 9.05 0 0 0 394.49 166.47L390.55 167.23A4.85 4.95 0 0 1 385.78 173.11Z" fill="#fecc7b"/>
<path d="M405.19 177.21A8.87 9.05 0 0 0 412.68 173.01L409.28 170.82A4.85 4.95 0 0 1 405.19 173.11Z" fill="#fee695"/>
<path d="M424.59 177.21A8.87 9.05 0 0 0 431.77 173.48L428.52 171.07A4.85 4.95 0 0 1 424.59 173.11Z" fill="#fee797"/>
<path d="M444 177.21A8.87 9.05 0 0 0 447.77 176.35L446.06 172.64A4.85 4.95 0 0 1 444 173.11Z" fill="#fff5ae"/>
<path d="M182.65 187.97A9.08 9.27 0 1 0 200.82 187.97A9.08 9.27 0 1 0 182.65 187.97ZM186.94 187.97A4.79 4.89 0 1 1 196.53 187.97A4.79 4.89 0 1 1 186.94 187.97Z" fill="#5e4fa2" fill-rule="evenodd"/>
<path d="M211.14 197.02A8.87 9.05 0 0 0 218.31 193.29L215.07 190.88A4.85 4.95 0 0 1 211.14 192.92Z" fill="#ecf7a1"/>
<path d="M230.55 197.02A8.87 9.05 0 1 0 222.77 183.61L226.29 185.59A4.85 4.95 0 1 1 230.55 192.92Z" fill="#e95c47"/>
<path d="M249.95 197.02A8.87 9.05 0 0 0 253.73 196.16L252.02 192.45A4.85 4.95 0 0 1 249.95 192.92Z" fill="#f7fcb2"/>
<path d="M269.35 197.02A8.87 9.05 0 1 0 265.08 180.04L267.02 183.63A4.85 4.95 0 1 1 269.35 192.92Z" fill="#f57245"/>
<path d="M288.76 197.02A8.87 9.05 0 0 0 297.19 190.77L293.37 189.5A4.85 4.95 0 0 1 288.76 192.92Z" fill="#e6f598"/>
<path d="M308.16 197.02A8.87 9.05 0 0 0 316.75 185.72L312.86 186.74A4.85 4.95 0 0 1 308.16 192.92Z" fill="#caea9e"/>
<path d="M327.57 197.02A8.87 9.05 0 0 0 336 190.77L332.18 189.5A4.85 4.95 0 0 1 327.57 192.92Z" fill="#e6f598"/>
<path d="M346.97 197.02A8.87 9.05 0 0 0 355.68 189.67L351.74 188.9A4.85 4.95 0 0 1 346.97 192.92Z" fill="#dff299"/>
<path d="M366.38 197.02A8.87 9.05 0 0 0 375.23 187.4L371.22 187.66A4.85 4.95 0 0 1 366.38 192.92Z" fill="#d3ed9c"/>
<path d="M385.78 197.02A8.87 9.05 0 0 0 394.49 189.67L390.55 188.9A4.85 4.95 0 0 1 385.78 192.92Z" fill="#dff299"/>
<path d="M405.19 197.02A8.87 9.05 0 0 0 413.9 189.67L409.95 188.9A4.85 4.95 0 0 1 405.19 192.92Z" fill="#dff299"/>
<path d="M424.59 197.02A8.87 9.05 0 0 0 433.03 185.17L429.21 186.44A4.85 4.95 0 0 1 424.59 192.92Z" fill="#c8e99e"/>
<path d="M444 197.02A8.87 9.05 0 0 0 448.27 195.9L446.33 192.31A4.85 4.95 0 0 1 444 192.92Z" fill="#f5fbaf"/>
<path d="M202.06 207.78A9.08 9.27 0 1 0 220.22 207.78A9.08 9.27 0 1 0 202.06 207.78ZM206.35 207.78A4.79 4.89 0 1 1 215.93 207.78A4.79 4.89 0 1 1 206.35 207.78Z" fill="#5e4fa2" fill-rule="evenodd"/>
<path d="M230.55 216.83A8.87 9.05 0 0 0 239.4 207.21L235.39 207.47A4.85 4.95 0 0 1 230.55 212.73Z" fill="#fed07e"/>
<path d="M249.95 216.83A8.87 9.05 0 0 0 256.41 213.98L253.49 211.17A4.85 4.95 0 0 1 249.95 212.73Z" fill="#eff9a6"/>
<path d="M269.35 216.83A8.87 9.05 0 0 0 278.07 206.08L274.12 206.85A4.85 4.95 0 0 1 269.35 212.73Z" fill="#cfec9d"/>
<path d="M288.76 216.83A8.87 9.05 0 1 0 284.98 199.59L286.69 203.3A4.85 4.95 0 1 1 288.76 212.73Z" fill="#f57748"/>
<path d="M308.16 216.83A8.87 9.05 0 0 0 312.44 199.85L310.5 203.44A4.85 4.95 0 0 1 308.16 212.73Z" fill="#fca85e"/>
<path d="M327.57 216.83A8.87 9.05 0 0 0 332.32 200.14L330.17 203.6A4.85 4.95 0 0 1 327.57 212.73Z" fill="#fcaa5f"/>
<path d="M346.97 216.83A8.87 9.05 0 0 0 348.09 198.8L347.58 202.87A4.85 4.95 0 0 1 346.97 212.73Z" fill="#f99355"/>
<path d="M366.38 216.83A8.87 9.05 0 0 0 369.64 199.36L368.16 203.18A4.85 4.95 0 0 1 366.38 212.73Z" fill="#fba05b"/>
<path d="M385.78 216.83A8.87 9.05 0 0 0 388.52 216.39L387.28 212.49A4.85 4.95 0 0 1 385.78 212.73Z" fill="#fff7b2"/>
<path d="M405.19 216.83A8.87 9.05 0 1 0 402.45 199.17L403.69 203.07A4.85 4.95 0 1 1 405.19 212.73Z" fill="#76c8a5"/>
<path d="M424.59 216.83A8.87 9.05 0 1 0 422.39 199.01L423.39 202.98A4.85 4.95 0 1 1 424.59 212.73Z" fill="#79c9a5"/>
<path d="M444 216.83A8.87 9.05 0 1 0 441.26 199.17L442.5 203.07A4.85 4.95 0 1 1 444 212.73Z" fill="#f67c4a"/>
<path d="M221.46 227.59A9.08 9.27 0 1 0 239.63 227.59A9.08 9.27 0 1 0 221.46 227.59ZM225.75 227.59A4.79 4.89 0 1 1 235.34 227.59A4.79 4.89 0 1 1 225.75 227.59Z" fill="#5e4fa2" fill-rule="evenodd"/>
<path d="M249.95 236.64A8.87 9.05 0 0 0 255.16 234.91L252.8 231.6A4.85 4.95 0 0 1 249.95 232.54Z" fill="#fff0a6"/>
<path d="M269.35 236.64A8.87 9.05 0 1 0 266.61 218.98L267.86 222.88A4.85 4.95 0 1 1 269.35 232.54Z" fill="#76c8a5"/>
<path d="M288.76 236.64A8.87 9.05 0 0 0 294.83 234.19L292.08 231.2A4.85 4.95 0 0 1 288.76 232.54Z" fill="#feec9f"/>
<path d="M308.16 236.64A8.87 9.05 0 0 0 316.19 223.74L312.55 225.48A4.85 4.95 0 0 1 308.16 232.54Z" fill="#fdc372"/>
<path d="M327.57 236.64A8.87 9.05 0 0 0 336.37 226.46L332.38 226.97A4.85 4.95 0 0 1 327.57 232.54Z" fill="#fece7c"/>
<path d="M346.97 236.64A8.87 9.05 0 0 0 355.77 228.73L351.79 228.21A4.85 4.95 0 0 1 346.97 232.54Z" fill="#fed884"/>
<path d="M366.38 236.64A8.87 9.05 0 0 0 375.09 225.89L371.14 226.66A4.85 4.95 0 0 1 366.38 232.54Z" fill="#fecc7b"/>
<path d="M385.78 236.64A8.87 9.05 0 0 0 389.05 219.17L387.57 222.99A4.85 4.95 0 0 1 385.78 232.54Z" fill="#fba05b"/>
<path d="M405.19 236.64A8.87 9.05 0 0 0 410.84 220.62L408.28 223.77A4.85 4.95 0 0 1 405.19 232.54Z" fill="#fdb163"/>
<path d="M424.59 236.64A8.87 9.05 0 0 0 429.81 220.27L427.44 223.58A4.85 4.95 0 0 1 424.59 232.54Z" fill="#fdad60"/>
<path d="M444 236.64A8.87 9.05 0 0 0 447.77 235.78L446.06 232.07A4.85 4.95 0 0 1 444 232.54Z" fill="#fff5ae"/>
<path d="M240.87 247.4A9.08 9.27 0 1 0 259.03 247.4A9.08 9.27 0 1 0 240.87 247.4ZM245.16 247.4A4.79 4.89 0 1 1 254.74 247.4A4.79 4.89 0 1 1 245.16 247.4Z" fill="#5e4fa2" fill-rule="evenodd"/>
<path d="M269.35 256.45A8.87 9.05 0 0 0 273.13 255.59L271.42 251.88A4.85 4.95 0 0 1 269.35 252.35Z" fill="#f7fcb2"/>
<path d="M288.76 256.45A8.87 9.05 0 0 0 293.97 254.72L291.61 251.41A4.85 4.95 0 0 1 288.76 252.35Z" fill="#fff0a6"/>
<path d="M308.16 256.45A8.87 9.05 0 0 0 312.44 255.33L310.5 251.74A4.85 4.95 0 0 1 308.16 252.35Z" fill="#fff2aa"/>
<path d="M327.57 256.45A8.87 9.05 0 0 0 332.32 255.04L330.17 251.58A4.85 4.95 0 0 1 327.57 252.35Z" fill="#fff1a8"/>
<path d="M346.97 256.45A8.87 9.05 0 0 0 350.75 255.59L349.04 251.88A4.85 4.95 0 0 1 346.97 252.35Z" fill="#fff5ae"/>
<path d="M366.38 256.45A8.87 9.05 0 0 0 370.15 255.59L368.44 251.88A4.85 4.95 0 0 1 366.38 252.35Z" fill="#fff5ae"/>
<path d="M385.78 256.45A8.87 9.05 0 0 0 388.52 256.01L387.28 252.11A4.85 4.95 0 0 1 385.78 252.35Z" fill="#fff7b2"/>
<path d="M405.19 256.45A8.87 9.05 0 0 0 407.39 256.17L406.39 252.2A4.85 4.95 0 0 1 405.19 252.35Z" fill="#fafdb7"/>
<path d="M424.59 256.45A8.87 9.05 0 0 0 426.25 256.29L425.5 252.26A4.85 4.95 0 0 1 424.59 252.35Z" fill="#fcfeba"/>
<path d="M444 256.45A8.87 9.05 0 0 0 448.75 255.04L446.6 251.58A4.85 4.95 0 0 1 444 252.35Z" fill="#fff1a8"/>
<path d="M260.27 267.21A9.08 9.27 0 1 0 278.44 267.21A9.08 9.27 0 1 0 260.27 267.21ZM264.56 267.21A4.79 4.89 0 1 1 274.15 267.21A4.79 4.89 0 1 1 264.56 267.21Z" fill="#5e4fa2" fill-rule="evenodd"/>
<path d="M288.76 276.26A8.87 9.05 0 1 0 280.51 263.88L284.25 265.39A4.85 4.95 0 1 1 288.76 272.16Z" fill="#e55749"/>
<path d="M308.16 276.26A8.87 9.05 0 1 0 300.68 262.36L304.07 264.56A4.85 4.95 0 1 1 308.16 272.16Z" fill="#ea5e47"/>
<path d="M327.57 276.26A8.87 9.05 0 1 0 324.83 258.6L326.07 262.5A4.85 4.95 0 1 1 327.57 272.16Z" fill="#f67c4a"/>
<path d="M346.97 276.26A8.87 9.05 0 1 0 341.32 260.23L343.88 263.39A4.85 4.95 0 1 1 346.97 272.16Z" fill="#f26944"/>
<path d="M366.38 276.26A8.87 9.05 0 1 0 359.91 261.01L362.84 263.82A4.85 4.95 0 1 1 366.38 272.16Z" fill="#ef6645"/>
<path d="M385.78 276.26A8.87 9.05 0 0 0 392.96 261.89L389.71 264.3A4.85 4.95 0 0 1 385.78 272.16Z" fill="#fdbb6c"/>
<path d="M405.19 276.26A8.87 9.05 0 0 0 408.96 275.4L407.25 271.69A4.85 4.95 0 0 1 405.19 272.16Z" fill="#f7fcb2"/>
<path d="M424.59 276.26A8.87 9.05 0 0 0 425.15 276.24L424.9 272.15A4.85 4.95 0 0 1 424.59 272.16Z" fill="#fffdbc"/>
<path d="M444 276.26A8.87 9.05 0 0 0 445.11 258.23L444.61 262.3A4.85 4.95 0 0 1 444 272.16Z" fill="#f99355"/>
<path d="M279.68 287.02A9.08 9.27 0 1 0 297.84 287.02A9.08 9.27 0 1 0 279.68 287.02ZM283.97 287.02A4.79 4.89 0 1 1 293.55 287.02A4.79 4.89 0 1 1 283.97 287.02Z" fill="#5e4fa2" fill-rule="evenodd"/>
<path d="M308.16 296.07A8.87 9.05 0 1 0 301.7 293.22L304.63 290.41A4.85 4.95 0 1 1 308.16 291.97Z" fill="#4273b3"/>
<path d="M327.57 296.07A8.87 9.05 0 1 0 319.55 290.87L323.18 289.13A4.85 4.95 0 1 1 327.57 291.97Z" fill="#3682ba"/>
<path d="M346.97 296.07A8.87 9.05 0 1 0 342.22 294.66L344.37 291.2A4.85 4.95 0 1 1 346.97 291.97Z" fill="#4b68ae"/>
<path d="M366.38 296.07A8.87 9.05 0 1 0 360.73 293.99L363.29 290.83A4.85 4.95 0 1 1 366.38 291.97Z" fill="#466eb1"/>
<path d="M385.78 296.07A8.87 9.05 0 0 0 394.49 285.32L390.55 286.09A4.85 4.95 0 0 1 385.78 291.97Z" fill="#cfec9d"/>
<path d="M405.19 296.07A8.87 9.05 0 1 0 398.01 281.7L401.26 284.11A4.85 4.95 0 1 1 405.19 291.97Z" fill="#eb6046"/>
<path d="M424.59 296.07A8.87 9.05 0 1 0 418.52 280.42L421.27 283.41A4.85 4.95 0 1 1 424.59 291.97Z" fill="#f06744"/>
<path d="M444 296.07A8.87 9.05 0 1 0 436.23 291.38L439.75 289.4A4.85 4.95 0 1 1 444 291.97Z" fill="#3a7eb8"/>
<path d="M299.08 306.83A9.08 9.27 0 1 0 317.25 306.83A9.08 9.27 0 1 0 299.08 306.83ZM303.37 306.83A4.79 4.89 0 1 1 312.96 306.83A4.79 4.89 0 1 1 303.37 306.83Z" fill="#5e4fa2" fill-rule="evenodd"/>
<path d="M327.57 315.88A8.87 9.05 0 1 0 326.46 315.81L326.96 311.74A4.85 4.95 0 1 1 327.57 311.78Z" fill="#5b53a4"/>
<path d="M346.97 315.88A8.87 9.05 0 1 0 345.86 315.81L346.37 311.74A4.85 4.95 0 1 1 346.97 311.78Z" fill="#5b53a4"/>
<path d="M357.51 306.83A8.87 9.05 0 1 0 375.25 306.83A8.87 9.05 0 1 0 357.51 306.83ZM361.53 306.83A4.85 4.95 0 1 1 371.23 306.83A4.85 4.95 0 1 1 361.53 306.83Z" fill="#5e4fa2" fill-rule="evenodd"/>
<path d="M385.78 315.88A8.87 9.05 0 1 0 378.61 301.51L381.86 303.92A4.85 4.95 0 1 1 385.78 311.78Z" fill="#58b2ac"/>
<path d="M405.19 315.88A8.87 9.05 0 0 0 412.68 301.98L409.28 304.17A4.85 4.95 0 0 1 405.19 311.78Z" fill="#fdbd6d"/>
<path d="M424.59 315.88A8.87 9.05 0 0 0 431.77 301.51L428.52 303.92A4.85 4.95 0 0 1 424.59 311.78Z" fill="#fdbb6c"/>
<path d="M444 315.88A8.87 9.05 0 1 0 435.13 306.83L439.15 306.83A4.85 4.95 0 1 1 444 311.78Z" fill="#3d95b8"/>
<path d="M318.49 326.64A9.08 9.27 0 1 0 336.65 326.64A9.08 9.27 0 1 0 318.49 326.64ZM322.78 326.64A4.79 4.89 0 1 1 332.36 326.64A4.79 4.89 0 1 1 322.78 326.64Z" fill="#5e4fa2" fill-rule="evenodd"/>
<path d="M346.97 335.69A8.87 9.05 0 1 0 344.77 335.41L345.77 331.43A4.85 4.95 0 1 1 346.97 331.59Z" fill="#555aa7"/>
<path d="M366.38 335.69A8.87 9.05 0 1 0 365.27 335.62L365.77 331.55A4.85 4.95 0 1 1 366.38 331.59Z" fill="#5b53a4"/>
<path d="M385.78 335.69A8.87 9.05 0 1 0 377.07 324.94L381.02 325.71A4.85 4.95 0 1 1 385.78 331.59Z" fill="#459eb4"/>
<path d="M405.19 335.69A8.87 9.05 0 0 0 413.62 323.84L409.8 325.11A4.85 4.95 0 0 1 405.19 331.59Z" fill="#fdc776"/>
<path d="M424.59 335.69A8.87 9.05 0 0 0 432.08 321.79L428.69 323.98A4.85 4.95 0 0 1 424.59 331.59Z" fill="#fdbd6d"/>
<path d="M444 335.69A8.87 9.05 0 1 0 435.2 325.5L439.18 326.02A4.85 4.95 0 1 1 444 331.59Z" fill="#439bb5"/>
<path d="M337.89 346.45A9.08 9.27 0 1 0 356.06 346.45A9.08 9.27 0 1 0 337.89 346.45ZM342.18 346.45A4.79 4.89 0 1 1 351.77 346.45A4.79 4.89 0 1 1 342.18 346.45Z" fill="#5e4fa2" fill-rule="evenodd"/>
<path d="M366.38 355.5A8.87 9.05 0 1 0 365.82 355.48L366.07 351.39A4.85 4.95 0 1 1 366.38 351.4Z" fill="#5c51a3"/>
<path d="M385.78 355.5A8.87 9.05 0 1 0 383.58 337.68L384.58 341.65A4.85 4.95 0 1 1 385.78 351.4Z" fill="#79c9a5"/>
<path d="M405.19 355.5A8.87 9.05 0 0 0 405.74 337.41L405.49 341.51A4.85 4.95 0 0 1 405.19 351.4Z" fill="#f99153"/>
<path d="M424.59 355.5A8.87 9.05 0 0 0 424.59 337.39L424.59 341.5A4.85 4.95 0 0 1 424.59 351.4Z" fill="#f98e52"/>
<path d="M444 355.5A8.87 9.05 0 1 0 435.56 349.25L439.38 347.98A4.85 4.95 0 1 1 444 351.4Z" fill="#3387bc"/>
<path d="M357.3 366.26A9.08 9.27 0 1 0 375.46 366.26A9.08 9.27 0 1 0 357.3 366.26ZM361.59 366.26A4.79 4.89 0 1 1 371.17 366.26A4.79 4.89 0 1 1 361.59 366.26Z" fill="#5e4fa2" fill-rule="evenodd"/>
<path d="M385.78 375.31A8.87 9.05 0 1 0 380.57 358.93L382.93 362.25A4.85 4.95 0 1 1 385.78 371.21Z" fill="#66c2a5"/>
<path d="M405.19 375.31A8.87 9.05 0 0 0 409.94 358.61L407.79 362.08A4.85 4.95 0 0 1 405.19 371.21Z" fill="#fcaa5f"/>
<path d="M424.59 375.31A8.87 9.05 0 0 0 428.37 358.07L426.66 361.78A4.85 4.95 0 0 1 424.59 371.21Z" fill="#fba35c"/>
<path d="M444 375.31A8.87 9.05 0 1 0 435.29 367.95L439.23 367.19A4.85 4.95 0 1 1 444 371.21Z" fill="#378ebb"/>
<path d="M376.7 386.07A9.08 9.27 0 1 0 394.86 386.07A9.08 9.27 0 1 0 376.7 386.07ZM380.99 386.07A4.79 4.89 0 1 1 390.58 386.07A4.79 4.89 0 1 1 380.99 386.07Z" fill="#5e4fa2" fill-rule="evenodd"/>
<path d="M405.19 395.12A8.87 9.05 0 0 0 410.4 378.74L408.04 382.06A4.85 4.95 0 0 1 405.19 391.02Z" fill="#aadca4"/>
<path d="M424.59 395.12A8.87 9.05 0 0 0 432.84 382.73L429.1 384.24A4.85 4.95 0 0 1 424.59 391.02Z" fill="#c6e89f"/>
<path d="M444 395.12A8.87 9.05 0 0 0 452.87 386.07L448.85 386.07A4.85 4.95 0 0 1 444 391.02Z" fill="#d6ee9b"/>
<path d="M396.11 405.88A9.08 9.27 0 1 0 414.27 405.88A9.08 9.27 0 1 0 396.11 405.88ZM400.4 405.88A4.79 4.89 0 1 1 409.98 405.88A4.79 4.89 0 1 1 400.4 405.88Z" fill="#5e4fa2" fill-rule="evenodd"/>
<path d="M424.59 414.93A8.87 9.05 0 1 0 422.93 414.77L423.68 410.74A4.85 4.95 0 1 1 424.59 410.83Z" fill="#5956a5"/>
<path d="M444 414.93A8.87 9.05 0 1 0 438.79 398.55L441.15 401.87A4.85 4.95 0 1 1 444 410.83Z" fill="#f46d43"/>
<path d="M415.51 425.69A9.08 9.27 0 1 0 433.67 425.69A9.08 9.27 0 1 0 415.51 425.69ZM419.8 425.69A4.79 4.89 0 1 1 429.39 425.69A4.79 4.89 0 1 1 419.8 425.69Z" fill="#5e4fa2" fill-rule="evenodd"/>
<path d="M444 434.74A8.87 9.05 0 1 0 437.93 419.09L440.68 422.08A4.85 4.95 0 1 1 444 430.64Z" fill="#f06744"/>
<path d="M434.92 445.5A9.08 9.27 0 1 0 453.08 445.5A9.08 9.27 0 1 0 434.92 445.5ZM439.2 445.5A4.79 4.89 0 1 1 448.79 445.5A4.79 4.89 0 1 1 439.2 445.5Z" fill="#5e4fa2" fill-rule="evenodd"/>
<g transform="rotate(0.03 250 232)" font-family="Liberation Serif, serif" font-size="7.9" fill="#000" stroke="#000" stroke-width="0.06" text-anchor="middle">
<text transform="translate(55.9 71.48) scale(1 1.06)">0.62</text>
<text transform="translate(55.9 91.29) scale(1 1.06)">-0.76</text>
<text transform="translate(75.31 91.29) scale(1 1.06)">-0.83</text>
<text transform="translate(55.9 111.1) scale(1 1.06)">-0.01</text>
<text transform="translate(75.31 111.1) scale(1 1.06)">0.00</text>
<text transform="translate(94.71 111.1) scale(1 1.06)">-0.00</text>
<text transform="translate(55.9 130.91) scale(1 1.06)">-0.38</text>
<text transform="translate(75.31 130.91) scale(1 1.06)">-0.45</text>
<text transform="translate(94.71 130.91) scale(1 1.06)">0.40</text>
<text transform="translate(114.12 130.91) scale(1 1.06)">0.02</text>
<text transform="translate(55.9 150.72) scale(1 1.06)">-0.36</text>
<text transform="translate(75.31 150.72) scale(1 1.06)">-0.59</text>
<text transform="translate(94.71 150.72) scale(1 1.06)">0.47</text>
<text transform="translate(114.12 150.72) scale(1 1.06)">0.02</text>
<text transform="translate(133.52 150.72) scale(1 1.06)">0.85</text>
<text transform="translate(55.9 170.53) scale(1 1.06)">-0.28</text>
<text transform="translate(75.31 170.53) scale(1 1.06)">-0.35</text>
<text transform="translate(94.71 170.53) scale(1 1.06)">0.27</text>
<text transform="translate(114.12 170.53) scale(1 1.06)">0.01</text>
<text transform="translate(133.52 170.53) scale(1 1.06)">0.91</text>
<text transform="translate(152.93 170.53) scale(1 1.06)">0.75</text>
<text transform="translate(55.9 190.34) scale(1 1.06)">-0.50</text>
<text transform="translate(75.31 190.34) scale(1 1.06)">-0.20</text>
<text transform="translate(94.71 190.34) scale(1 1.06)">0.39</text>
<text transform="translate(114.12 190.34) scale(1 1.06)">-0.03</text>
<text transform="translate(133.52 190.34) scale(1 1.06)">-0.03</text>
<text transform="translate(152.93 190.34) scale(1 1.06)">-0.05</text>
<text transform="translate(172.33 190.34) scale(1 1.06)">-0.02</text>
<text transform="translate(55.9 210.15) scale(1 1.06)">-0.49</text>
<text transform="translate(75.31 210.15) scale(1 1.06)">-0.60</text>
<text transform="translate(94.71 210.15) scale(1 1.06)">0.46</text>
<text transform="translate(114.12 210.15) scale(1 1.06)">0.00</text>
<text transform="translate(133.52 210.15) scale(1 1.06)">0.22</text>
<text transform="translate(152.93 210.15) scale(1 1.06)">0.28</text>
<text transform="translate(172.33 210.15) scale(1 1.06)">0.16</text>
<text transform="translate(191.74 210.15) scale(1 1.06)">0.15</text>
<text transform="translate(55.9 229.96) scale(1 1.06)">0.51</text>
<text transform="translate(75.31 229.96) scale(1 1.06)">0.30</text>
<text transform="translate(94.71 229.96) scale(1 1.06)">-0.42</text>
<text transform="translate(114.12 229.96) scale(1 1.06)">0.03</text>
<text transform="translate(133.52 229.96) scale(1 1.06)">0.05</text>
<text transform="translate(152.93 229.96) scale(1 1.06)">0.08</text>
<text transform="translate(172.33 229.96) scale(1 1.06)">0.05</text>
<text transform="translate(191.74 229.96) scale(1 1.06)">-0.67</text>
<text transform="translate(211.14 229.96) scale(1 1.06)">-0.26</text>
<text transform="translate(55.9 249.77) scale(1 1.06)">-0.17</text>
<text transform="translate(75.31 249.77) scale(1 1.06)">-0.15</text>
<text transform="translate(94.71 249.77) scale(1 1.06)">0.18</text>
<text transform="translate(114.12 249.77) scale(1 1.06)">0.01</text>
<text transform="translate(133.52 249.77) scale(1 1.06)">0.11</text>
<text transform="translate(152.93 249.77) scale(1 1.06)">0.11</text>
<text transform="translate(172.33 249.77) scale(1 1.06)">0.08</text>
<text transform="translate(191.74 249.77) scale(1 1.06)">0.07</text>
<text transform="translate(211.14 249.77) scale(1 1.06)">0.13</text>
<text transform="translate(230.55 249.77) scale(1 1.06)">-0.10</text>
<text transform="translate(55.9 269.58) scale(1 1.06)">0.17</text>
<text transform="translate(75.31 269.58) scale(1 1.06)">-0.16</text>
<text transform="translate(94.71 269.58) scale(1 1.06)">-0.12</text>
<text transform="translate(114.12 269.58) scale(1 1.06)">0.02</text>
<text transform="translate(133.52 269.58) scale(1 1.06)">0.25</text>
<text transform="translate(152.93 269.58) scale(1 1.06)">0.33</text>
<text transform="translate(172.33 269.58) scale(1 1.06)">0.22</text>
<text transform="translate(191.74 269.58) scale(1 1.06)">-0.58</text>
<text transform="translate(211.14 269.58) scale(1 1.06)">0.28</text>
<text transform="translate(230.55 269.58) scale(1 1.06)">0.55</text>
<text transform="translate(249.95 269.58) scale(1 1.06)">0.07</text>
<text transform="translate(55.9 289.39) scale(1 1.06)">0.13</text>
<text transform="translate(75.31 289.39) scale(1 1.06)">0.31</text>
<text transform="translate(94.71 289.39) scale(1 1.06)">-0.18</text>
<text transform="translate(114.12 289.39) scale(1 1.06)">-0.02</text>
<text transform="translate(133.52 289.39) scale(1 1.06)">-0.12</text>
<text transform="translate(152.93 289.39) scale(1 1.06)">-0.18</text>
<text transform="translate(172.33 289.39) scale(1 1.06)">-0.08</text>
<text transform="translate(191.74 289.39) scale(1 1.06)">0.20</text>
<text transform="translate(211.14 289.39) scale(1 1.06)">-0.57</text>
<text transform="translate(230.55 289.39) scale(1 1.06)">-0.12</text>
<text transform="translate(249.95 289.39) scale(1 1.06)">-0.10</text>
<text transform="translate(269.35 289.39) scale(1 1.06)">-0.69</text>
<text transform="translate(55.9 309.2) scale(1 1.06)">0.01</text>
<text transform="translate(75.31 309.2) scale(1 1.06)">0.20</text>
<text transform="translate(94.71 309.2) scale(1 1.06)">-0.07</text>
<text transform="translate(114.12 309.2) scale(1 1.06)">-0.02</text>
<text transform="translate(133.52 309.2) scale(1 1.06)">-0.20</text>
<text transform="translate(152.93 309.2) scale(1 1.06)">-0.24</text>
<text transform="translate(172.33 309.2) scale(1 1.06)">-0.15</text>
<text transform="translate(191.74 309.2) scale(1 1.06)">0.29</text>
<text transform="translate(211.14 309.2) scale(1 1.06)">-0.42</text>
<text transform="translate(230.55 309.2) scale(1 1.06)">-0.32</text>
<text transform="translate(249.95 309.2) scale(1 1.06)">-0.08</text>
<text transform="translate(269.35 309.2) scale(1 1.06)">-0.66</text>
<text transform="translate(288.76 309.2) scale(1 1.06)">0.87</text>
<text transform="translate(55.9 329.01) scale(1 1.06)">0.08</text>
<text transform="translate(75.31 329.01) scale(1 1.06)">0.23</text>
<text transform="translate(94.71 329.01) scale(1 1.06)">-0.13</text>
<text transform="translate(114.12 329.01) scale(1 1.06)">-0.02</text>
<text transform="translate(133.52 329.01) scale(1 1.06)">-0.23</text>
<text transform="translate(152.93 329.01) scale(1 1.06)">-0.25</text>
<text transform="translate(172.33 329.01) scale(1 1.06)">-0.17</text>
<text transform="translate(191.74 329.01) scale(1 1.06)">0.20</text>
<text transform="translate(211.14 329.01) scale(1 1.06)">-0.41</text>
<text transform="translate(230.55 329.01) scale(1 1.06)">-0.27</text>
<text transform="translate(249.95 329.01) scale(1 1.06)">-0.09</text>
<text transform="translate(269.35 329.01) scale(1 1.06)">-0.55</text>
<text transform="translate(288.76 329.01) scale(1 1.06)">0.82</text>
<text transform="translate(308.16 329.01) scale(1 1.06)">0.98</text>
<text transform="translate(55.9 348.82) scale(1 1.06)">0.05</text>
<text transform="translate(75.31 348.82) scale(1 1.06)">0.24</text>
<text transform="translate(94.71 348.82) scale(1 1.06)">-0.13</text>
<text transform="translate(114.12 348.82) scale(1 1.06)">-0.01</text>
<text transform="translate(133.52 348.82) scale(1 1.06)">-0.15</text>
<text transform="translate(152.93 348.82) scale(1 1.06)">-0.19</text>
<text transform="translate(172.33 348.82) scale(1 1.06)">-0.10</text>
<text transform="translate(191.74 348.82) scale(1 1.06)">0.22</text>
<text transform="translate(211.14 348.82) scale(1 1.06)">-0.48</text>
<text transform="translate(230.55 348.82) scale(1 1.06)">-0.23</text>
<text transform="translate(249.95 348.82) scale(1 1.06)">-0.07</text>
<text transform="translate(269.35 348.82) scale(1 1.06)">-0.61</text>
<text transform="translate(288.76 348.82) scale(1 1.06)">0.91</text>
<text transform="translate(308.16 348.82) scale(1 1.06)">0.98</text>
<text transform="translate(327.57 348.82) scale(1 1.06)">0.96</text>
<text transform="translate(55.9 368.63) scale(1 1.06)">0.02</text>
<text transform="translate(75.31 368.63) scale(1 1.06)">0.21</text>
<text transform="translate(94.71 368.63) scale(1 1.06)">-0.09</text>
<text transform="translate(114.12 368.63) scale(1 1.06)">-0.02</text>
<text transform="translate(133.52 368.63) scale(1 1.06)">-0.17</text>
<text transform="translate(152.93 368.63) scale(1 1.06)">-0.21</text>
<text transform="translate(172.33 368.63) scale(1 1.06)">-0.12</text>
<text transform="translate(191.74 368.63) scale(1 1.06)">0.26</text>
<text transform="translate(211.14 368.63) scale(1 1.06)">-0.44</text>
<text transform="translate(230.55 368.63) scale(1 1.06)">-0.28</text>
<text transform="translate(249.95 368.63) scale(1 1.06)">-0.07</text>
<text transform="translate(269.35 368.63) scale(1 1.06)">-0.63</text>
<text transform="translate(288.76 368.63) scale(1 1.06)">0.89</text>
<text transform="translate(308.16 368.63) scale(1 1.06)">1.00</text>
<text transform="translate(327.57 368.63) scale(1 1.06)">0.98</text>
<text transform="translate(346.97 368.63) scale(1 1.06)">0.99</text>
<text transform="translate(55.9 388.44) scale(1 1.06)">-0.05</text>
<text transform="translate(75.31 388.44) scale(1 1.06)">0.03</text>
<text transform="translate(94.71 388.44) scale(1 1.06)">0.05</text>
<text transform="translate(114.12 388.44) scale(1 1.06)">-0.01</text>
<text transform="translate(133.52 388.44) scale(1 1.06)">-0.33</text>
<text transform="translate(152.93 388.44) scale(1 1.06)">-0.33</text>
<text transform="translate(172.33 388.44) scale(1 1.06)">-0.28</text>
<text transform="translate(191.74 388.44) scale(1 1.06)">0.22</text>
<text transform="translate(211.14 388.44) scale(1 1.06)">-0.05</text>
<text transform="translate(230.55 388.44) scale(1 1.06)">-0.44</text>
<text transform="translate(249.95 388.44) scale(1 1.06)">-0.05</text>
<text transform="translate(269.35 388.44) scale(1 1.06)">-0.35</text>
<text transform="translate(288.76 388.44) scale(1 1.06)">0.28</text>
<text transform="translate(308.16 388.44) scale(1 1.06)">0.65</text>
<text transform="translate(327.57 388.44) scale(1 1.06)">0.72</text>
<text transform="translate(346.97 388.44) scale(1 1.06)">0.54</text>
<text transform="translate(366.38 388.44) scale(1 1.06)">0.60</text>
<text transform="translate(55.9 408.25) scale(1 1.06)">-0.29</text>
<text transform="translate(75.31 408.25) scale(1 1.06)">-0.30</text>
<text transform="translate(94.71 408.25) scale(1 1.06)">0.32</text>
<text transform="translate(114.12 408.25) scale(1 1.06)">-0.00</text>
<text transform="translate(133.52 408.25) scale(1 1.06)">-0.17</text>
<text transform="translate(152.93 408.25) scale(1 1.06)">-0.14</text>
<text transform="translate(172.33 408.25) scale(1 1.06)">-0.16</text>
<text transform="translate(191.74 408.25) scale(1 1.06)">0.22</text>
<text transform="translate(211.14 408.25) scale(1 1.06)">0.55</text>
<text transform="translate(230.55 408.25) scale(1 1.06)">-0.39</text>
<text transform="translate(249.95 408.25) scale(1 1.06)">0.04</text>
<text transform="translate(269.35 408.25) scale(1 1.06)">0.07</text>
<text transform="translate(288.76 408.25) scale(1 1.06)">-0.65</text>
<text transform="translate(308.16 408.25) scale(1 1.06)">-0.34</text>
<text transform="translate(327.57 408.25) scale(1 1.06)">-0.30</text>
<text transform="translate(346.97 408.25) scale(1 1.06)">-0.49</text>
<text transform="translate(366.38 408.25) scale(1 1.06)">-0.41</text>
<text transform="translate(385.78 408.25) scale(1 1.06)">0.40</text>
<text transform="translate(55.9 428.06) scale(1 1.06)">-0.34</text>
<text transform="translate(75.31 428.06) scale(1 1.06)">-0.30</text>
<text transform="translate(94.71 428.06) scale(1 1.06)">0.34</text>
<text transform="translate(114.12 428.06) scale(1 1.06)">0.00</text>
<text transform="translate(133.52 428.06) scale(1 1.06)">-0.16</text>
<text transform="translate(152.93 428.06) scale(1 1.06)">-0.14</text>
<text transform="translate(172.33 428.06) scale(1 1.06)">-0.15</text>
<text transform="translate(191.74 428.06) scale(1 1.06)">0.30</text>
<text transform="translate(211.14 428.06) scale(1 1.06)">0.54</text>
<text transform="translate(230.55 428.06) scale(1 1.06)">-0.40</text>
<text transform="translate(249.95 428.06) scale(1 1.06)">0.03</text>
<text transform="translate(269.35 428.06) scale(1 1.06)">-0.01</text>
<text transform="translate(288.76 428.06) scale(1 1.06)">-0.62</text>
<text transform="translate(308.16 428.06) scale(1 1.06)">-0.35</text>
<text transform="translate(327.57 428.06) scale(1 1.06)">-0.34</text>
<text transform="translate(346.97 428.06) scale(1 1.06)">-0.50</text>
<text transform="translate(366.38 428.06) scale(1 1.06)">-0.43</text>
<text transform="translate(385.78 428.06) scale(1 1.06)">0.31</text>
<text transform="translate(405.19 428.06) scale(1 1.06)">0.97</text>
<text transform="translate(55.9 447.87) scale(1 1.06)">0.20</text>
<text transform="translate(75.31 447.87) scale(1 1.06)">0.30</text>
<text transform="translate(94.71 447.87) scale(1 1.06)">-0.23</text>
<text transform="translate(114.12 447.87) scale(1 1.06)">-0.01</text>
<text transform="translate(133.52 447.87) scale(1 1.06)">-0.11</text>
<text transform="translate(152.93 447.87) scale(1 1.06)">-0.14</text>
<text transform="translate(172.33 447.87) scale(1 1.06)">-0.07</text>
<text transform="translate(191.74 447.87) scale(1 1.06)">0.08</text>
<text transform="translate(211.14 447.87) scale(1 1.06)">-0.55</text>
<text transform="translate(230.55 447.87) scale(1 1.06)">-0.07</text>
<text transform="translate(249.95 447.87) scale(1 1.06)">-0.09</text>
<text transform="translate(269.35 447.87) scale(1 1.06)">-0.48</text>
<text transform="translate(288.76 447.87) scale(1 1.06)">0.83</text>
<text transform="translate(308.16 447.87) scale(1 1.06)">0.75</text>
<text transform="translate(327.57 447.87) scale(1 1.06)">0.73</text>
<text transform="translate(346.97 447.87) scale(1 1.06)">0.80</text>
<text transform="translate(366.38 447.87) scale(1 1.06)">0.78</text>
<text transform="translate(385.78 447.87) scale(1 1.06)">0.25</text>
<text transform="translate(405.19 447.87) scale(1 1.06)">-0.60</text>
<text transform="translate(424.59 447.87) scale(1 1.06)">-0.62</text>
</g>
<rect x="46.45" y="39.45" width="407.1" height="415.95" fill="none" stroke="#000" stroke-width="0.75"/>
<path d="M55.5 39.45v-2.3M46.45 49.5h-2.3M75.5 39.45v-2.3M46.45 69.5h-2.3M94.5 39.45v-2.3M46.45 88.5h-2.3M114.5 39.45v-2.3M46.45 108.5h-2.3M133.5 39.45v-2.3M46.45 128.5h-2.3M152.5 39.45v-2.3M46.45 148.5h-2.3M172.5 39.45v-2.3M46.45 168.5h-2.3M191.5 39.45v-2.3M46.45 187.5h-2.3M211.5 39.45v-2.3M46.45 207.5h-2.3M230.5 39.45v-2.3M46.45 227.5h-2.3M249.5 39.45v-2.3M46.45 247.5h-2.3M269.5 39.45v-2.3M46.45 267.5h-2.3M288.5 39.45v-2.3M46.45 287.5h-2.3M308.5 39.45v-2.3M46.45 306.5h-2.3M327.5 39.45v-2.3M46.45 326.5h-2.3M346.5 39.45v-2.3M46.45 346.5h-2.3M366.5 39.45v-2.3M46.45 366.5h-2.3M385.5 39.45v-2.3M46.45 386.5h-2.3M405.5 39.45v-2.3M46.45 405.5h-2.3M424.5 39.45v-2.3M46.45 425.5h-2.3M443.5 39.45v-2.3M46.45 445.5h-2.3" stroke="#000" stroke-width="0.7" fill="none"/>
<g font-family="Liberation Serif, serif" font-weight="bold" font-size="8.1" fill="#000" stroke="#000" stroke-width="0.2">
<text transform="rotate(0.03 42.3 49.3)" x="42.3" y="51.98" text-anchor="end">Lon</text>
<text transform="rotate(0.03 42.3 69.11)" x="42.3" y="71.79" text-anchor="end">Lat</text>
<text transform="rotate(0.03 42.3 88.92)" x="42.3" y="91.6" text-anchor="end">Elev</text>
<text transform="rotate(0.03 42.3 108.73)" x="42.3" y="111.41" text-anchor="end">Aspect</text>
<text transform="rotate(0.03 42.3 128.54)" x="42.3" y="131.22" text-anchor="end">Slope</text>
<text transform="rotate(0.03 42.3 148.35)" x="42.3" y="151.03" text-anchor="end">Relief</text>
<text transform="rotate(0.03 42.3 168.16)" x="42.3" y="170.83" text-anchor="end">Roughness</text>
<text transform="rotate(0.03 42.3 187.97)" x="42.3" y="190.64" text-anchor="end">LC</text>
<text transform="rotate(0.03 42.3 207.78)" x="42.3" y="210.45" text-anchor="end">LST</text>
<text transform="rotate(0.03 42.3 227.59)" x="42.3" y="230.26" text-anchor="end">FTC</text>
<text transform="rotate(0.03 42.3 247.4)" x="42.3" y="250.07" text-anchor="end">DOY</text>
<text transform="rotate(0.03 42.3 267.21)" x="42.3" y="269.88" text-anchor="end">NDVI</text>
<text transform="rotate(0.03 42.3 287.02)" x="42.3" y="289.69" text-anchor="end">NDSI</text>
<text transform="rotate(0.03 42.3 306.83)" x="42.3" y="309.5" text-anchor="end">Ref1</text>
<text transform="rotate(0.03 42.3 326.64)" x="42.3" y="329.31" text-anchor="end">Ref2</text>
<text transform="rotate(0.03 42.3 346.45)" x="42.3" y="349.12" text-anchor="end">Ref3</text>
<text transform="rotate(0.03 42.3 366.26)" x="42.3" y="368.93" text-anchor="end">Ref4</text>
<text transform="rotate(0.03 42.3 386.07)" x="42.3" y="388.74" text-anchor="end">Ref5</text>
<text transform="rotate(0.03 42.3 405.88)" x="42.3" y="408.55" text-anchor="end">Ref6</text>
<text transform="rotate(0.03 42.3 425.69)" x="42.3" y="428.36" text-anchor="end">Ref7</text>
<text transform="rotate(0.03 42.3 445.5)" x="42.3" y="448.17" text-anchor="end">FSC</text>
<text transform="translate(51.85 34.38) rotate(-45)">Lon</text>
<text transform="translate(71.89 34.38) rotate(-45)">Lat</text>
<text transform="translate(90.18 34.38) rotate(-45)">Elev</text>
<text transform="translate(106.72 34.38) rotate(-45)">Aspect</text>
<text transform="translate(127.71 34.38) rotate(-45)">Slope</text>
<text transform="translate(146.68 34.38) rotate(-45)">Relief</text>
<text transform="translate(159.98 34.33) rotate(-45)">Roughness</text>
<text transform="translate(188.63 34.38) rotate(-45)">LC</text>
<text transform="translate(206.6 34.38) rotate(-45)">LST</text>
<text transform="translate(225.7 34.38) rotate(-45)">FTC</text>
<text transform="translate(244.46 34.38) rotate(-45)">DOY</text>
<text transform="translate(262.91 34.38) rotate(-45)">NDVI</text>
<text transform="translate(282.79 34.38) rotate(-45)">NDSI</text>
<text transform="translate(303.35 34.38) rotate(-45)">Ref1</text>
<text transform="translate(322.75 34.38) rotate(-45)">Ref2</text>
<text transform="translate(342.16 34.38) rotate(-45)">Ref3</text>
<text transform="translate(361.56 34.38) rotate(-45)">Ref4</text>
<text transform="translate(380.96 34.38) rotate(-45)">Ref5</text>
<text transform="translate(400.37 34.38) rotate(-45)">Ref6</text>
<text transform="translate(419.77 34.38) rotate(-45)">Ref7</text>
<text transform="translate(439.46 34.38) rotate(-45)">FSC</text>
</g>
<rect x="459.4" y="38.5" width="17.3" height="417.7" fill="url(#g)" stroke="#000" stroke-width="0.7"/>
<g transform="rotate(0.03 486 247)" font-family="Liberation Serif, serif" font-weight="bold" font-size="6.9" fill="#000" stroke="#000" stroke-width="0.15">
<text x="481" y="40.78">1.00</text>
<text x="481" y="92.99">0.75</text>
<text x="481" y="145.2">0.50</text>
<text x="481" y="197.41">0.25</text>
<text x="481" y="249.63">0.00</text>
<text x="481" y="301.84">-0.25</text>
<text x="481" y="354.05">-0.50</text>
<text x="481" y="406.26">-0.75</text>
<text x="481" y="458.48">-1.00</text>
</g>
<path d="M476.7 38.5h2.3M476.7 90.5h2.3M476.7 142.5h2.3M476.7 195.5h2.3M476.7 247.5h2.3M476.7 299.5h2.3M476.7 351.5h2.3M476.7 403.5h2.3M476.7 456.5h2.3" stroke="#000" stroke-width="0.7" fill="none"/>
</svg>
</body></html>
